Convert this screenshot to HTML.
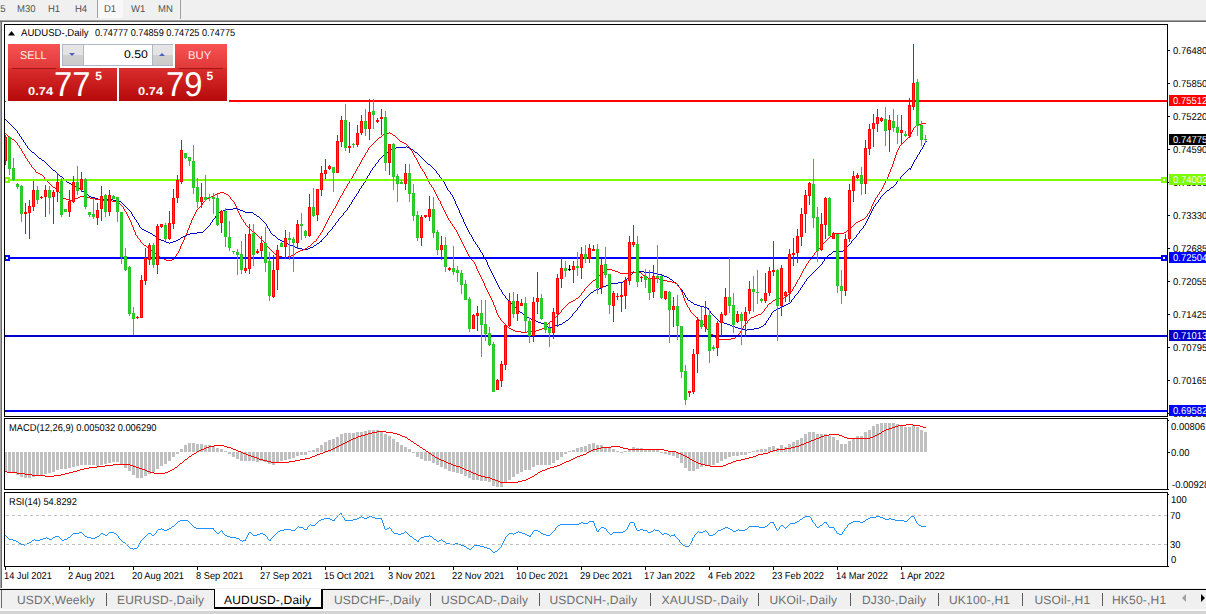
<!DOCTYPE html><html><head><meta charset="utf-8"><title>AUDUSD Daily</title><style>
html,body{margin:0;padding:0}
body{width:1206px;height:614px;overflow:hidden;background:#fff;position:relative;font-family:"Liberation Sans",sans-serif;text-rendering:geometricPrecision}
.abs{position:absolute;white-space:nowrap}
.t{position:absolute;white-space:nowrap;font-size:10px;line-height:11px;color:#000;transform:scaleX(0.926);transform-origin:0 0}
.tb{position:absolute;white-space:nowrap;font-size:10px;line-height:12px;color:#505050;top:4px;transform:scaleX(.95);transform-origin:0 0}
.ax{position:absolute;left:1173px;white-space:nowrap;font-size:10px;line-height:11px;color:#000;height:11px;transform:scaleX(0.945);transform-origin:0 0}
.lb{position:absolute;left:1169px;width:37px;height:11px;color:#fff;overflow:hidden}
.lb span{position:absolute;left:4px;top:1px;white-space:nowrap;font-size:10px;line-height:11px;transform:scaleX(0.945);transform-origin:0 0}
.tab{position:absolute;top:593px;font-size:12px;line-height:14px;color:#6e6e6e;white-space:nowrap;letter-spacing:0.2px}
.sep{position:absolute;top:593px;width:1px;height:13px;background:#5a5a5a}
</style></head><body>
<div class="abs" style="left:0;top:0;width:1206px;height:20px;background:#f0f0f0"></div>
<div class="abs" style="left:0;top:20px;width:1206px;height:1px;background:#a0a0a0"></div>
<div class="abs" style="left:0;top:21px;width:1206px;height:1px;background:#696969"></div>
<div class="abs" style="left:98px;top:0;width:25px;height:18px;background:#f8f8f8"></div>
<div class="abs" style="left:97px;top:0;width:1px;height:18px;background:#a0a0a0"></div>
<div class="abs" style="left:180px;top:0;width:1px;height:19px;background:#a0a0a0"></div>
<div class="tb" style="left:-5px">15</div>
<div class="tb" style="left:16.5px">M30</div>
<div class="tb" style="left:47.5px">H1</div>
<div class="tb" style="left:74.5px">H4</div>
<div class="tb" style="left:103.5px">D1</div>
<div class="tb" style="left:131px">W1</div>
<div class="tb" style="left:158px">MN</div>
<div class="abs" style="left:0;top:22px;width:1px;height:566px;background:#a4a4a4"></div>
<div class="abs" style="left:1px;top:22px;width:1px;height:566px;background:#696969"></div>
<svg class="abs" style="left:0;top:0" width="1206" height="614" viewBox="0 0 1206 614">
<g shape-rendering="crispEdges">
<rect x="4" y="452" width="3" height="19" fill="#c0c0c0"/>
<rect x="8" y="452" width="3" height="20" fill="#c0c0c0"/>
<rect x="12" y="452" width="3" height="21" fill="#c0c0c0"/>
<rect x="16" y="452" width="3" height="23" fill="#c0c0c0"/>
<rect x="20" y="452" width="3" height="25" fill="#c0c0c0"/>
<rect x="24" y="452" width="3" height="26" fill="#c0c0c0"/>
<rect x="28" y="452" width="3" height="26" fill="#c0c0c0"/>
<rect x="32" y="452" width="3" height="25" fill="#c0c0c0"/>
<rect x="36" y="452" width="3" height="24" fill="#c0c0c0"/>
<rect x="40" y="452" width="3" height="23" fill="#c0c0c0"/>
<rect x="44" y="452" width="3" height="22" fill="#c0c0c0"/>
<rect x="48" y="452" width="3" height="21" fill="#c0c0c0"/>
<rect x="52" y="452" width="3" height="20" fill="#c0c0c0"/>
<rect x="56" y="452" width="3" height="18" fill="#c0c0c0"/>
<rect x="60" y="452" width="3" height="17" fill="#c0c0c0"/>
<rect x="64" y="452" width="3" height="17" fill="#c0c0c0"/>
<rect x="68" y="452" width="3" height="16" fill="#c0c0c0"/>
<rect x="72" y="452" width="3" height="15" fill="#c0c0c0"/>
<rect x="76" y="452" width="3" height="14" fill="#c0c0c0"/>
<rect x="80" y="452" width="3" height="13" fill="#c0c0c0"/>
<rect x="84" y="452" width="3" height="13" fill="#c0c0c0"/>
<rect x="88" y="452" width="3" height="13" fill="#c0c0c0"/>
<rect x="92" y="452" width="3" height="13" fill="#c0c0c0"/>
<rect x="96" y="452" width="3" height="14" fill="#c0c0c0"/>
<rect x="100" y="452" width="3" height="13" fill="#c0c0c0"/>
<rect x="104" y="452" width="3" height="12" fill="#c0c0c0"/>
<rect x="108" y="452" width="3" height="11" fill="#c0c0c0"/>
<rect x="112" y="452" width="3" height="10" fill="#c0c0c0"/>
<rect x="116" y="452" width="3" height="10" fill="#c0c0c0"/>
<rect x="120" y="452" width="3" height="13" fill="#c0c0c0"/>
<rect x="124" y="452" width="3" height="16" fill="#c0c0c0"/>
<rect x="128" y="452" width="3" height="19" fill="#c0c0c0"/>
<rect x="132" y="452" width="3" height="23" fill="#c0c0c0"/>
<rect x="136" y="452" width="3" height="26" fill="#c0c0c0"/>
<rect x="140" y="452" width="3" height="26" fill="#c0c0c0"/>
<rect x="144" y="452" width="3" height="24" fill="#c0c0c0"/>
<rect x="148" y="452" width="3" height="22" fill="#c0c0c0"/>
<rect x="152" y="452" width="3" height="20" fill="#c0c0c0"/>
<rect x="156" y="452" width="3" height="17" fill="#c0c0c0"/>
<rect x="160" y="452" width="3" height="14" fill="#c0c0c0"/>
<rect x="164" y="452" width="3" height="12" fill="#c0c0c0"/>
<rect x="168" y="452" width="3" height="9" fill="#c0c0c0"/>
<rect x="172" y="452" width="3" height="5" fill="#c0c0c0"/>
<rect x="176" y="452" width="3" height="2" fill="#c0c0c0"/>
<rect x="180" y="449" width="3" height="3" fill="#c0c0c0"/>
<rect x="184" y="445" width="3" height="7" fill="#c0c0c0"/>
<rect x="188" y="443" width="3" height="9" fill="#c0c0c0"/>
<rect x="192" y="443" width="3" height="9" fill="#c0c0c0"/>
<rect x="196" y="444" width="3" height="8" fill="#c0c0c0"/>
<rect x="200" y="444" width="3" height="8" fill="#c0c0c0"/>
<rect x="204" y="445" width="3" height="7" fill="#c0c0c0"/>
<rect x="208" y="445" width="3" height="7" fill="#c0c0c0"/>
<rect x="212" y="446" width="3" height="6" fill="#c0c0c0"/>
<rect x="216" y="448" width="3" height="4" fill="#c0c0c0"/>
<rect x="220" y="449" width="3" height="3" fill="#c0c0c0"/>
<rect x="224" y="451" width="3" height="1" fill="#c0c0c0"/>
<rect x="228" y="452" width="3" height="2" fill="#c0c0c0"/>
<rect x="232" y="452" width="3" height="5" fill="#c0c0c0"/>
<rect x="236" y="452" width="3" height="7" fill="#c0c0c0"/>
<rect x="240" y="452" width="3" height="9" fill="#c0c0c0"/>
<rect x="244" y="452" width="3" height="9" fill="#c0c0c0"/>
<rect x="248" y="452" width="3" height="9" fill="#c0c0c0"/>
<rect x="252" y="452" width="3" height="9" fill="#c0c0c0"/>
<rect x="256" y="452" width="3" height="10" fill="#c0c0c0"/>
<rect x="260" y="452" width="3" height="9" fill="#c0c0c0"/>
<rect x="264" y="452" width="3" height="10" fill="#c0c0c0"/>
<rect x="268" y="452" width="3" height="12" fill="#c0c0c0"/>
<rect x="272" y="452" width="3" height="13" fill="#c0c0c0"/>
<rect x="276" y="452" width="3" height="11" fill="#c0c0c0"/>
<rect x="280" y="452" width="3" height="9" fill="#c0c0c0"/>
<rect x="284" y="452" width="3" height="8" fill="#c0c0c0"/>
<rect x="288" y="452" width="3" height="7" fill="#c0c0c0"/>
<rect x="292" y="452" width="3" height="6" fill="#c0c0c0"/>
<rect x="296" y="452" width="3" height="4" fill="#c0c0c0"/>
<rect x="300" y="452" width="3" height="3" fill="#c0c0c0"/>
<rect x="304" y="452" width="3" height="3" fill="#c0c0c0"/>
<rect x="308" y="451" width="3" height="1" fill="#c0c0c0"/>
<rect x="312" y="450" width="3" height="2" fill="#c0c0c0"/>
<rect x="316" y="448" width="3" height="4" fill="#c0c0c0"/>
<rect x="320" y="445" width="3" height="7" fill="#c0c0c0"/>
<rect x="324" y="442" width="3" height="10" fill="#c0c0c0"/>
<rect x="328" y="440" width="3" height="12" fill="#c0c0c0"/>
<rect x="332" y="439" width="3" height="13" fill="#c0c0c0"/>
<rect x="336" y="437" width="3" height="15" fill="#c0c0c0"/>
<rect x="340" y="434" width="3" height="18" fill="#c0c0c0"/>
<rect x="344" y="433" width="3" height="19" fill="#c0c0c0"/>
<rect x="348" y="433" width="3" height="19" fill="#c0c0c0"/>
<rect x="352" y="433" width="3" height="19" fill="#c0c0c0"/>
<rect x="356" y="432" width="3" height="20" fill="#c0c0c0"/>
<rect x="360" y="432" width="3" height="20" fill="#c0c0c0"/>
<rect x="364" y="431" width="3" height="21" fill="#c0c0c0"/>
<rect x="368" y="430" width="3" height="22" fill="#c0c0c0"/>
<rect x="372" y="430" width="3" height="22" fill="#c0c0c0"/>
<rect x="376" y="430" width="3" height="22" fill="#c0c0c0"/>
<rect x="380" y="431" width="3" height="21" fill="#c0c0c0"/>
<rect x="384" y="434" width="3" height="18" fill="#c0c0c0"/>
<rect x="388" y="436" width="3" height="16" fill="#c0c0c0"/>
<rect x="392" y="439" width="3" height="13" fill="#c0c0c0"/>
<rect x="396" y="442" width="3" height="10" fill="#c0c0c0"/>
<rect x="400" y="445" width="3" height="7" fill="#c0c0c0"/>
<rect x="404" y="447" width="3" height="5" fill="#c0c0c0"/>
<rect x="408" y="449" width="3" height="3" fill="#c0c0c0"/>
<rect x="412" y="452" width="3" height="1" fill="#c0c0c0"/>
<rect x="416" y="452" width="3" height="5" fill="#c0c0c0"/>
<rect x="420" y="452" width="3" height="7" fill="#c0c0c0"/>
<rect x="424" y="452" width="3" height="9" fill="#c0c0c0"/>
<rect x="428" y="452" width="3" height="9" fill="#c0c0c0"/>
<rect x="432" y="452" width="3" height="11" fill="#c0c0c0"/>
<rect x="436" y="452" width="3" height="13" fill="#c0c0c0"/>
<rect x="440" y="452" width="3" height="15" fill="#c0c0c0"/>
<rect x="444" y="452" width="3" height="17" fill="#c0c0c0"/>
<rect x="448" y="452" width="3" height="19" fill="#c0c0c0"/>
<rect x="452" y="452" width="3" height="20" fill="#c0c0c0"/>
<rect x="456" y="452" width="3" height="21" fill="#c0c0c0"/>
<rect x="460" y="452" width="3" height="22" fill="#c0c0c0"/>
<rect x="464" y="452" width="3" height="24" fill="#c0c0c0"/>
<rect x="468" y="452" width="3" height="26" fill="#c0c0c0"/>
<rect x="472" y="452" width="3" height="28" fill="#c0c0c0"/>
<rect x="476" y="452" width="3" height="28" fill="#c0c0c0"/>
<rect x="480" y="452" width="3" height="29" fill="#c0c0c0"/>
<rect x="484" y="452" width="3" height="29" fill="#c0c0c0"/>
<rect x="488" y="452" width="3" height="30" fill="#c0c0c0"/>
<rect x="492" y="452" width="3" height="34" fill="#c0c0c0"/>
<rect x="496" y="452" width="3" height="35" fill="#c0c0c0"/>
<rect x="500" y="452" width="3" height="35" fill="#c0c0c0"/>
<rect x="504" y="452" width="3" height="31" fill="#c0c0c0"/>
<rect x="508" y="452" width="3" height="28" fill="#c0c0c0"/>
<rect x="512" y="452" width="3" height="25" fill="#c0c0c0"/>
<rect x="516" y="452" width="3" height="22" fill="#c0c0c0"/>
<rect x="520" y="452" width="3" height="20" fill="#c0c0c0"/>
<rect x="524" y="452" width="3" height="18" fill="#c0c0c0"/>
<rect x="528" y="452" width="3" height="18" fill="#c0c0c0"/>
<rect x="532" y="452" width="3" height="15" fill="#c0c0c0"/>
<rect x="536" y="452" width="3" height="13" fill="#c0c0c0"/>
<rect x="540" y="452" width="3" height="13" fill="#c0c0c0"/>
<rect x="544" y="452" width="3" height="13" fill="#c0c0c0"/>
<rect x="548" y="452" width="3" height="13" fill="#c0c0c0"/>
<rect x="552" y="452" width="3" height="11" fill="#c0c0c0"/>
<rect x="556" y="452" width="3" height="8" fill="#c0c0c0"/>
<rect x="560" y="452" width="3" height="5" fill="#c0c0c0"/>
<rect x="564" y="452" width="3" height="2" fill="#c0c0c0"/>
<rect x="568" y="451" width="3" height="1" fill="#c0c0c0"/>
<rect x="572" y="450" width="3" height="2" fill="#c0c0c0"/>
<rect x="576" y="448" width="3" height="4" fill="#c0c0c0"/>
<rect x="580" y="447" width="3" height="5" fill="#c0c0c0"/>
<rect x="584" y="446" width="3" height="6" fill="#c0c0c0"/>
<rect x="588" y="444" width="3" height="8" fill="#c0c0c0"/>
<rect x="592" y="443" width="3" height="9" fill="#c0c0c0"/>
<rect x="596" y="445" width="3" height="7" fill="#c0c0c0"/>
<rect x="600" y="445" width="3" height="7" fill="#c0c0c0"/>
<rect x="604" y="447" width="3" height="5" fill="#c0c0c0"/>
<rect x="608" y="448" width="3" height="4" fill="#c0c0c0"/>
<rect x="612" y="449" width="3" height="3" fill="#c0c0c0"/>
<rect x="616" y="451" width="3" height="1" fill="#c0c0c0"/>
<rect x="620" y="452" width="3" height="1" fill="#c0c0c0"/>
<rect x="624" y="451" width="3" height="1" fill="#c0c0c0"/>
<rect x="628" y="449" width="3" height="3" fill="#c0c0c0"/>
<rect x="632" y="447" width="3" height="5" fill="#c0c0c0"/>
<rect x="636" y="448" width="3" height="4" fill="#c0c0c0"/>
<rect x="640" y="448" width="3" height="4" fill="#c0c0c0"/>
<rect x="644" y="449" width="3" height="3" fill="#c0c0c0"/>
<rect x="648" y="450" width="3" height="2" fill="#c0c0c0"/>
<rect x="652" y="450" width="3" height="2" fill="#c0c0c0"/>
<rect x="656" y="450" width="3" height="2" fill="#c0c0c0"/>
<rect x="660" y="452" width="3" height="1" fill="#c0c0c0"/>
<rect x="664" y="452" width="3" height="2" fill="#c0c0c0"/>
<rect x="668" y="452" width="3" height="3" fill="#c0c0c0"/>
<rect x="672" y="452" width="3" height="4" fill="#c0c0c0"/>
<rect x="676" y="452" width="3" height="6" fill="#c0c0c0"/>
<rect x="680" y="452" width="3" height="11" fill="#c0c0c0"/>
<rect x="684" y="452" width="3" height="16" fill="#c0c0c0"/>
<rect x="688" y="452" width="3" height="19" fill="#c0c0c0"/>
<rect x="692" y="452" width="3" height="19" fill="#c0c0c0"/>
<rect x="696" y="452" width="3" height="17" fill="#c0c0c0"/>
<rect x="700" y="452" width="3" height="15" fill="#c0c0c0"/>
<rect x="704" y="452" width="3" height="13" fill="#c0c0c0"/>
<rect x="708" y="452" width="3" height="14" fill="#c0c0c0"/>
<rect x="712" y="452" width="3" height="13" fill="#c0c0c0"/>
<rect x="716" y="452" width="3" height="11" fill="#c0c0c0"/>
<rect x="720" y="452" width="3" height="9" fill="#c0c0c0"/>
<rect x="724" y="452" width="3" height="7" fill="#c0c0c0"/>
<rect x="728" y="452" width="3" height="5" fill="#c0c0c0"/>
<rect x="732" y="452" width="3" height="4" fill="#c0c0c0"/>
<rect x="736" y="452" width="3" height="4" fill="#c0c0c0"/>
<rect x="740" y="452" width="3" height="3" fill="#c0c0c0"/>
<rect x="744" y="452" width="3" height="3" fill="#c0c0c0"/>
<rect x="748" y="452" width="3" height="1" fill="#c0c0c0"/>
<rect x="752" y="451" width="3" height="1" fill="#c0c0c0"/>
<rect x="756" y="450" width="3" height="2" fill="#c0c0c0"/>
<rect x="760" y="449" width="3" height="3" fill="#c0c0c0"/>
<rect x="764" y="449" width="3" height="3" fill="#c0c0c0"/>
<rect x="768" y="447" width="3" height="5" fill="#c0c0c0"/>
<rect x="772" y="446" width="3" height="6" fill="#c0c0c0"/>
<rect x="776" y="448" width="3" height="4" fill="#c0c0c0"/>
<rect x="780" y="445" width="3" height="7" fill="#c0c0c0"/>
<rect x="784" y="447" width="3" height="5" fill="#c0c0c0"/>
<rect x="788" y="444" width="3" height="8" fill="#c0c0c0"/>
<rect x="792" y="442" width="3" height="10" fill="#c0c0c0"/>
<rect x="796" y="440" width="3" height="12" fill="#c0c0c0"/>
<rect x="800" y="438" width="3" height="14" fill="#c0c0c0"/>
<rect x="804" y="434" width="3" height="18" fill="#c0c0c0"/>
<rect x="808" y="432" width="3" height="20" fill="#c0c0c0"/>
<rect x="812" y="432" width="3" height="20" fill="#c0c0c0"/>
<rect x="816" y="434" width="3" height="18" fill="#c0c0c0"/>
<rect x="820" y="434" width="3" height="18" fill="#c0c0c0"/>
<rect x="824" y="434" width="3" height="18" fill="#c0c0c0"/>
<rect x="828" y="436" width="3" height="16" fill="#c0c0c0"/>
<rect x="832" y="437" width="3" height="15" fill="#c0c0c0"/>
<rect x="836" y="440" width="3" height="12" fill="#c0c0c0"/>
<rect x="840" y="444" width="3" height="8" fill="#c0c0c0"/>
<rect x="844" y="444" width="3" height="8" fill="#c0c0c0"/>
<rect x="848" y="441" width="3" height="11" fill="#c0c0c0"/>
<rect x="852" y="439" width="3" height="13" fill="#c0c0c0"/>
<rect x="856" y="436" width="3" height="16" fill="#c0c0c0"/>
<rect x="860" y="436" width="3" height="16" fill="#c0c0c0"/>
<rect x="864" y="432" width="3" height="20" fill="#c0c0c0"/>
<rect x="868" y="430" width="3" height="22" fill="#c0c0c0"/>
<rect x="872" y="426" width="3" height="26" fill="#c0c0c0"/>
<rect x="876" y="424" width="3" height="28" fill="#c0c0c0"/>
<rect x="880" y="423" width="3" height="29" fill="#c0c0c0"/>
<rect x="884" y="423" width="3" height="29" fill="#c0c0c0"/>
<rect x="888" y="423" width="3" height="29" fill="#c0c0c0"/>
<rect x="892" y="423" width="3" height="29" fill="#c0c0c0"/>
<rect x="896" y="424" width="3" height="28" fill="#c0c0c0"/>
<rect x="900" y="426" width="3" height="26" fill="#c0c0c0"/>
<rect x="904" y="427" width="3" height="25" fill="#c0c0c0"/>
<rect x="908" y="427" width="3" height="25" fill="#c0c0c0"/>
<rect x="912" y="425" width="3" height="27" fill="#c0c0c0"/>
<rect x="916" y="427" width="3" height="25" fill="#c0c0c0"/>
<rect x="920" y="430" width="3" height="22" fill="#c0c0c0"/>
<rect x="924" y="432" width="3" height="20" fill="#c0c0c0"/>
</g>
<path shape-rendering="crispEdges" fill="#0000c8" d="M5,119h1v1h-1zM6,120h1v1h-1zM7,121h1v1h-1zM8,122h1v1h-1zM9,123h1v1h-1zM10,124h1v1h-1zM11,125h1v1h-1zM12,126h1v1h-1zM13,127h1v1h-1zM14,128h1v1h-1zM15,129h1v1h-1zM16,130h1v1h-1zM17,131h1v2h-1zM18,133h1v1h-1zM19,134h1v2h-1zM20,136h1v1h-1zM21,137h1v2h-1zM22,139h1v1h-1zM23,140h1v2h-1zM24,142h1v1h-1zM25,143h1v2h-1zM26,145h1v1h-1zM27,146h1v2h-1zM28,148h1v1h-1zM29,149h1v1h-1zM30,150h1v1h-1zM31,151h1v1h-1zM32,152h1v1h-1zM33,152h1v1h-1zM34,153h1v1h-1zM35,154h1v1h-1zM36,155h1v1h-1zM37,156h1v1h-1zM38,157h1v1h-1zM39,158h1v1h-1zM40,158h1v1h-1zM41,159h1v1h-1zM42,160h1v1h-1zM43,160h1v1h-1zM44,161h1v1h-1zM45,162h1v1h-1zM46,163h1v1h-1zM47,164h1v1h-1zM48,165h1v1h-1zM49,166h1v1h-1zM50,167h1v1h-1zM51,168h1v1h-1zM52,169h1v1h-1zM53,170h1v1h-1zM54,170h1v1h-1zM55,171h1v1h-1zM56,172h1v1h-1zM57,173h1v1h-1zM58,174h1v1h-1zM59,175h1v1h-1zM60,176h1v1h-1zM61,176h1v1h-1zM62,177h1v1h-1zM63,178h1v1h-1zM64,179h1v1h-1zM65,180h1v1h-1zM66,181h1v1h-1zM67,182h1v1h-1zM68,182h1v1h-1zM69,183h1v1h-1zM70,183h1v1h-1zM71,184h1v1h-1zM72,184h1v1h-1zM73,185h1v1h-1zM74,186h1v1h-1zM75,186h1v1h-1zM76,187h1v1h-1zM77,187h1v1h-1zM78,188h1v1h-1zM79,188h1v1h-1zM80,189h1v1h-1zM81,190h1v1h-1zM82,191h1v1h-1zM83,191h1v1h-1zM84,192h1v1h-1zM85,193h1v1h-1zM86,194h1v1h-1zM87,194h1v1h-1zM88,195h1v1h-1zM89,196h1v1h-1zM90,196h1v1h-1zM91,197h1v1h-1zM92,197h1v1h-1zM93,197h1v1h-1zM94,197h1v1h-1zM95,198h1v1h-1zM96,198h1v1h-1zM97,198h1v1h-1zM98,199h1v1h-1zM99,199h1v1h-1zM100,199h1v1h-1zM101,199h1v1h-1zM102,199h1v1h-1zM103,199h1v1h-1zM104,199h1v1h-1zM105,199h1v1h-1zM106,199h1v1h-1zM107,199h1v1h-1zM108,199h1v1h-1zM109,199h1v1h-1zM110,199h1v1h-1zM111,199h1v1h-1zM112,199h1v1h-1zM113,200h1v1h-1zM114,200h1v1h-1zM115,200h1v1h-1zM116,200h1v1h-1zM117,200h1v1h-1zM118,200h1v1h-1zM119,201h1v1h-1zM120,201h1v1h-1zM121,202h1v1h-1zM122,203h1v1h-1zM123,204h1v1h-1zM124,205h1v1h-1zM125,206h1v1h-1zM126,207h1v1h-1zM127,208h1v1h-1zM128,209h1v1h-1zM129,210h1v1h-1zM130,211h1v1h-1zM131,212h1v2h-1zM132,214h1v2h-1zM133,216h1v1h-1zM134,217h1v2h-1zM135,219h1v1h-1zM136,220h1v2h-1zM137,222h1v1h-1zM138,223h1v2h-1zM139,225h1v2h-1zM140,227h1v1h-1zM141,228h1v1h-1zM142,229h1v1h-1zM143,229h1v1h-1zM144,230h1v1h-1zM145,230h1v1h-1zM146,231h1v1h-1zM147,231h1v1h-1zM148,232h1v1h-1zM149,232h1v1h-1zM150,233h1v1h-1zM151,233h1v1h-1zM152,234h1v1h-1zM153,235h1v1h-1zM154,235h1v1h-1zM155,236h1v1h-1zM156,237h1v1h-1zM157,237h1v1h-1zM158,238h1v1h-1zM159,239h1v1h-1zM160,239h1v1h-1zM161,240h1v1h-1zM162,240h1v1h-1zM163,240h1v1h-1zM164,241h1v1h-1zM165,241h1v1h-1zM166,242h1v1h-1zM167,242h1v1h-1zM168,242h1v1h-1zM169,243h1v1h-1zM170,242h1v1h-1zM171,242h1v1h-1zM172,242h1v1h-1zM173,241h1v1h-1zM174,241h1v1h-1zM175,241h1v1h-1zM176,240h1v1h-1zM177,240h1v1h-1zM178,239h1v1h-1zM179,239h1v1h-1zM180,238h1v1h-1zM181,237h1v1h-1zM182,237h1v1h-1zM183,236h1v1h-1zM184,236h1v1h-1zM185,235h1v1h-1zM186,235h1v1h-1zM187,234h1v1h-1zM188,234h1v1h-1zM189,234h1v1h-1zM190,233h1v1h-1zM191,233h1v1h-1zM192,233h1v1h-1zM193,233h1v1h-1zM194,233h1v1h-1zM195,233h1v1h-1zM196,233h1v1h-1zM197,232h1v1h-1zM198,232h1v1h-1zM199,232h1v1h-1zM200,232h1v1h-1zM201,232h1v1h-1zM202,232h1v1h-1zM203,231h1v1h-1zM204,230h1v1h-1zM205,229h1v1h-1zM206,228h1v1h-1zM207,227h1v1h-1zM208,226h1v1h-1zM209,225h1v1h-1zM210,223h1v2h-1zM211,222h1v1h-1zM212,220h1v2h-1zM213,219h1v1h-1zM214,218h1v1h-1zM215,216h1v2h-1zM216,215h1v1h-1zM217,214h1v1h-1zM218,213h1v1h-1zM219,212h1v1h-1zM220,212h1v1h-1zM221,211h1v1h-1zM222,211h1v1h-1zM223,210h1v1h-1zM224,210h1v1h-1zM225,209h1v1h-1zM226,209h1v1h-1zM227,209h1v1h-1zM228,209h1v1h-1zM229,209h1v1h-1zM230,209h1v1h-1zM231,209h1v1h-1zM232,209h1v1h-1zM233,208h1v1h-1zM234,208h1v1h-1zM235,208h1v1h-1zM236,208h1v1h-1zM237,208h1v1h-1zM238,209h1v1h-1zM239,209h1v1h-1zM240,210h1v1h-1zM241,210h1v1h-1zM242,210h1v1h-1zM243,211h1v1h-1zM244,211h1v1h-1zM245,212h1v1h-1zM246,212h1v1h-1zM247,212h1v1h-1zM248,212h1v1h-1zM249,212h1v1h-1zM250,212h1v1h-1zM251,212h1v1h-1zM252,212h1v1h-1zM253,213h1v1h-1zM254,214h1v1h-1zM255,214h1v1h-1zM256,215h1v1h-1zM257,216h1v1h-1zM258,216h1v1h-1zM259,217h1v1h-1zM260,218h1v1h-1zM261,219h1v1h-1zM262,220h1v1h-1zM263,221h1v1h-1zM264,222h1v1h-1zM265,223h1v1h-1zM266,224h1v2h-1zM267,226h1v2h-1zM268,228h1v1h-1zM269,229h1v2h-1zM270,231h1v2h-1zM271,233h1v1h-1zM272,234h1v1h-1zM273,235h1v1h-1zM274,235h1v1h-1zM275,236h1v1h-1zM276,237h1v1h-1zM277,238h1v1h-1zM278,239h1v1h-1zM279,239h1v1h-1zM280,240h1v1h-1zM281,240h1v1h-1zM282,241h1v1h-1zM283,241h1v1h-1zM284,242h1v1h-1zM285,242h1v1h-1zM286,243h1v1h-1zM287,243h1v1h-1zM288,244h1v1h-1zM289,244h1v1h-1zM290,245h1v1h-1zM291,245h1v1h-1zM292,245h1v1h-1zM293,246h1v1h-1zM294,246h1v1h-1zM295,247h1v1h-1zM296,247h1v1h-1zM297,247h1v1h-1zM298,248h1v1h-1zM299,248h1v1h-1zM300,248h1v1h-1zM301,248h1v1h-1zM302,249h1v1h-1zM303,249h1v1h-1zM304,249h1v1h-1zM305,249h1v1h-1zM306,249h1v1h-1zM307,249h1v1h-1zM308,248h1v1h-1zM309,248h1v1h-1zM310,247h1v1h-1zM311,247h1v1h-1zM312,247h1v1h-1zM313,246h1v1h-1zM314,245h1v1h-1zM315,245h1v1h-1zM316,244h1v1h-1zM317,243h1v1h-1zM318,243h1v1h-1zM319,242h1v1h-1zM320,241h1v1h-1zM321,240h1v2h-1zM322,239h1v1h-1zM323,238h1v1h-1zM324,237h1v1h-1zM325,236h1v1h-1zM326,235h1v1h-1zM327,233h1v2h-1zM328,232h1v1h-1zM329,231h1v1h-1zM330,230h1v1h-1zM331,229h1v1h-1zM332,227h1v2h-1zM333,226h1v1h-1zM334,225h1v1h-1zM335,223h1v2h-1zM336,222h1v1h-1zM337,221h1v1h-1zM338,219h1v2h-1zM339,218h1v1h-1zM340,217h1v1h-1zM341,216h1v1h-1zM342,215h1v1h-1zM343,213h1v2h-1zM344,212h1v1h-1zM345,211h1v1h-1zM346,210h1v1h-1zM347,208h1v2h-1zM348,207h1v1h-1zM349,205h1v2h-1zM350,204h1v1h-1zM351,202h1v2h-1zM352,200h1v2h-1zM353,199h1v1h-1zM354,197h1v2h-1zM355,196h1v1h-1zM356,194h1v2h-1zM357,193h1v1h-1zM358,191h1v2h-1zM359,189h1v2h-1zM360,188h1v1h-1zM361,186h1v2h-1zM362,185h1v1h-1zM363,183h1v2h-1zM364,182h1v1h-1zM365,180h1v2h-1zM366,178h1v2h-1zM367,176h1v2h-1zM368,175h1v1h-1zM369,173h1v2h-1zM370,171h1v2h-1zM371,170h1v1h-1zM372,168h1v2h-1zM373,167h1v1h-1zM374,166h1v1h-1zM375,164h1v2h-1zM376,163h1v1h-1zM377,162h1v1h-1zM378,160h1v2h-1zM379,159h1v1h-1zM380,158h1v1h-1zM381,157h1v1h-1zM382,156h1v1h-1zM383,155h1v1h-1zM384,154h1v1h-1zM385,153h1v1h-1zM386,153h1v1h-1zM387,152h1v1h-1zM388,151h1v1h-1zM389,150h1v1h-1zM390,150h1v1h-1zM391,149h1v1h-1zM392,149h1v1h-1zM393,149h1v1h-1zM394,148h1v1h-1zM395,148h1v1h-1zM396,147h1v1h-1zM397,147h1v1h-1zM398,147h1v1h-1zM399,147h1v1h-1zM400,147h1v1h-1zM401,147h1v1h-1zM402,147h1v1h-1zM403,147h1v1h-1zM404,147h1v1h-1zM405,147h1v1h-1zM406,146h1v1h-1zM407,147h1v1h-1zM408,147h1v1h-1zM409,148h1v1h-1zM410,148h1v1h-1zM411,149h1v1h-1zM412,149h1v1h-1zM413,150h1v1h-1zM414,151h1v1h-1zM415,152h1v1h-1zM416,152h1v1h-1zM417,153h1v1h-1zM418,154h1v1h-1zM419,155h1v1h-1zM420,156h1v1h-1zM421,157h1v1h-1zM422,158h1v1h-1zM423,159h1v1h-1zM424,160h1v1h-1zM425,161h1v1h-1zM426,162h1v1h-1zM427,163h1v1h-1zM428,164h1v1h-1zM429,164h1v1h-1zM430,165h1v1h-1zM431,166h1v1h-1zM432,167h1v1h-1zM433,168h1v1h-1zM434,169h1v1h-1zM435,170h1v1h-1zM436,171h1v2h-1zM437,173h1v1h-1zM438,174h1v1h-1zM439,175h1v2h-1zM440,177h1v1h-1zM441,178h1v1h-1zM442,179h1v1h-1zM443,180h1v2h-1zM444,182h1v2h-1zM445,184h1v2h-1zM446,186h1v2h-1zM447,188h1v2h-1zM448,190h1v1h-1zM449,191h1v1h-1zM450,192h1v2h-1zM451,194h1v1h-1zM452,195h1v2h-1zM453,197h1v2h-1zM454,199h1v2h-1zM455,201h1v3h-1zM456,204h1v2h-1zM457,206h1v2h-1zM458,208h1v2h-1zM459,210h1v3h-1zM460,213h1v2h-1zM461,215h1v2h-1zM462,217h1v2h-1zM463,219h1v3h-1zM464,222h1v2h-1zM465,224h1v2h-1zM466,226h1v2h-1zM467,228h1v2h-1zM468,230h1v2h-1zM469,232h1v2h-1zM470,234h1v1h-1zM471,235h1v2h-1zM472,237h1v2h-1zM473,239h1v2h-1zM474,241h1v1h-1zM475,242h1v2h-1zM476,244h1v1h-1zM477,245h1v2h-1zM478,247h1v1h-1zM479,248h1v2h-1zM480,250h1v2h-1zM481,252h1v1h-1zM482,253h1v2h-1zM483,255h1v2h-1zM484,257h1v2h-1zM485,259h1v1h-1zM486,260h1v2h-1zM487,262h1v3h-1zM488,265h1v2h-1zM489,267h1v2h-1zM490,269h1v2h-1zM491,271h1v2h-1zM492,273h1v2h-1zM493,275h1v2h-1zM494,277h1v2h-1zM495,279h1v2h-1zM496,281h1v2h-1zM497,283h1v2h-1zM498,285h1v2h-1zM499,287h1v2h-1zM500,289h1v1h-1zM501,290h1v2h-1zM502,292h1v2h-1zM503,294h1v1h-1zM504,295h1v1h-1zM505,296h1v2h-1zM506,298h1v1h-1zM507,299h1v1h-1zM508,300h1v1h-1zM509,301h1v1h-1zM510,302h1v1h-1zM511,303h1v1h-1zM512,304h1v1h-1zM513,305h1v1h-1zM514,306h1v1h-1zM515,307h1v1h-1zM516,308h1v1h-1zM517,309h1v1h-1zM518,310h1v1h-1zM519,311h1v1h-1zM520,312h1v1h-1zM521,312h1v1h-1zM522,313h1v1h-1zM523,314h1v1h-1zM524,315h1v1h-1zM525,315h1v1h-1zM526,316h1v1h-1zM527,317h1v1h-1zM528,317h1v1h-1zM529,318h1v1h-1zM530,318h1v1h-1zM531,319h1v1h-1zM532,319h1v1h-1zM533,320h1v1h-1zM534,320h1v1h-1zM535,320h1v1h-1zM536,321h1v1h-1zM537,321h1v1h-1zM538,322h1v1h-1zM539,322h1v1h-1zM540,322h1v1h-1zM541,323h1v1h-1zM542,323h1v1h-1zM543,323h1v1h-1zM544,324h1v1h-1zM545,325h1v1h-1zM546,325h1v1h-1zM547,326h1v1h-1zM548,327h1v1h-1zM549,328h1v1h-1zM550,327h1v1h-1zM551,327h1v1h-1zM552,326h1v1h-1zM553,326h1v1h-1zM554,326h1v1h-1zM555,325h1v1h-1zM556,325h1v1h-1zM557,325h1v1h-1zM558,325h1v1h-1zM559,324h1v1h-1zM560,324h1v1h-1zM561,324h1v1h-1zM562,323h1v1h-1zM563,322h1v1h-1zM564,322h1v1h-1zM565,321h1v1h-1zM566,320h1v1h-1zM567,320h1v1h-1zM568,319h1v1h-1zM569,318h1v1h-1zM570,317h1v1h-1zM571,316h1v1h-1zM572,314h1v2h-1zM573,313h1v1h-1zM574,312h1v1h-1zM575,311h1v1h-1zM576,310h1v1h-1zM577,308h1v2h-1zM578,307h1v1h-1zM579,306h1v1h-1zM580,304h1v2h-1zM581,303h1v1h-1zM582,301h1v2h-1zM583,300h1v1h-1zM584,299h1v1h-1zM585,298h1v1h-1zM586,297h1v1h-1zM587,296h1v1h-1zM588,295h1v1h-1zM589,294h1v1h-1zM590,293h1v1h-1zM591,292h1v1h-1zM592,292h1v1h-1zM593,291h1v1h-1zM594,290h1v1h-1zM595,290h1v1h-1zM596,289h1v1h-1zM597,289h1v1h-1zM598,289h1v1h-1zM599,288h1v1h-1zM600,288h1v1h-1zM601,287h1v1h-1zM602,287h1v1h-1zM603,286h1v1h-1zM604,286h1v1h-1zM605,286h1v1h-1zM606,285h1v1h-1zM607,285h1v1h-1zM608,284h1v1h-1zM609,284h1v1h-1zM610,284h1v1h-1zM611,283h1v1h-1zM612,283h1v1h-1zM613,283h1v1h-1zM614,283h1v1h-1zM615,283h1v1h-1zM616,283h1v1h-1zM617,283h1v1h-1zM618,282h1v1h-1zM619,282h1v1h-1zM620,282h1v1h-1zM621,282h1v1h-1zM622,282h1v1h-1zM623,281h1v1h-1zM624,280h1v1h-1zM625,279h1v1h-1zM626,279h1v1h-1zM627,278h1v1h-1zM628,277h1v1h-1zM629,276h1v1h-1zM630,275h1v1h-1zM631,274h1v1h-1zM632,273h1v1h-1zM633,272h1v1h-1zM634,272h1v1h-1zM635,272h1v1h-1zM636,272h1v1h-1zM637,272h1v1h-1zM638,272h1v1h-1zM639,271h1v1h-1zM640,271h1v1h-1zM641,271h1v1h-1zM642,271h1v1h-1zM643,271h1v1h-1zM644,272h1v1h-1zM645,272h1v1h-1zM646,272h1v1h-1zM647,272h1v1h-1zM648,272h1v1h-1zM649,272h1v1h-1zM650,272h1v1h-1zM651,272h1v1h-1zM652,272h1v1h-1zM653,272h1v1h-1zM654,273h1v1h-1zM655,273h1v1h-1zM656,273h1v1h-1zM657,273h1v1h-1zM658,274h1v1h-1zM659,274h1v1h-1zM660,274h1v1h-1zM661,274h1v1h-1zM662,275h1v1h-1zM663,275h1v1h-1zM664,276h1v1h-1zM665,276h1v1h-1zM666,276h1v1h-1zM667,277h1v1h-1zM668,277h1v1h-1zM669,278h1v1h-1zM670,279h1v1h-1zM671,279h1v1h-1zM672,280h1v1h-1zM673,281h1v1h-1zM674,282h1v1h-1zM675,282h1v1h-1zM676,283h1v1h-1zM677,284h1v1h-1zM678,285h1v2h-1zM679,287h1v1h-1zM680,288h1v1h-1zM681,289h1v1h-1zM682,290h1v2h-1zM683,292h1v1h-1zM684,293h1v2h-1zM685,295h1v2h-1zM686,297h1v1h-1zM687,298h1v2h-1zM688,300h1v1h-1zM689,300h1v1h-1zM690,301h1v1h-1zM691,302h1v1h-1zM692,302h1v1h-1zM693,303h1v1h-1zM694,304h1v1h-1zM695,304h1v1h-1zM696,304h1v1h-1zM697,305h1v1h-1zM698,305h1v1h-1zM699,305h1v1h-1zM700,306h1v1h-1zM701,306h1v1h-1zM702,306h1v1h-1zM703,306h1v1h-1zM704,307h1v1h-1zM705,307h1v1h-1zM706,307h1v1h-1zM707,308h1v1h-1zM708,308h1v2h-1zM709,310h1v1h-1zM710,311h1v2h-1zM711,313h1v1h-1zM712,314h1v1h-1zM713,315h1v1h-1zM714,316h1v1h-1zM715,317h1v1h-1zM716,318h1v1h-1zM717,319h1v1h-1zM718,320h1v1h-1zM719,321h1v1h-1zM720,321h1v1h-1zM721,321h1v1h-1zM722,322h1v1h-1zM723,322h1v1h-1zM724,323h1v1h-1zM725,323h1v1h-1zM726,323h1v1h-1zM727,324h1v1h-1zM728,324h1v1h-1zM729,324h1v1h-1zM730,325h1v1h-1zM731,325h1v1h-1zM732,326h1v1h-1zM733,326h1v1h-1zM734,326h1v1h-1zM735,327h1v1h-1zM736,327h1v1h-1zM737,327h1v1h-1zM738,328h1v1h-1zM739,328h1v1h-1zM740,328h1v1h-1zM741,329h1v1h-1zM742,329h1v1h-1zM743,329h1v1h-1zM744,329h1v1h-1zM745,329h1v1h-1zM746,330h1v1h-1zM747,329h1v1h-1zM748,329h1v1h-1zM749,329h1v1h-1zM750,329h1v1h-1zM751,329h1v1h-1zM752,329h1v1h-1zM753,329h1v1h-1zM754,328h1v1h-1zM755,328h1v1h-1zM756,328h1v1h-1zM757,328h1v1h-1zM758,328h1v1h-1zM759,327h1v1h-1zM760,327h1v1h-1zM761,326h1v1h-1zM762,326h1v1h-1zM763,325h1v1h-1zM764,324h1v1h-1zM765,323h1v2h-1zM766,321h1v2h-1zM767,320h1v1h-1zM768,318h1v2h-1zM769,317h1v1h-1zM770,315h1v2h-1zM771,313h1v2h-1zM772,312h1v1h-1zM773,311h1v1h-1zM774,310h1v1h-1zM775,310h1v1h-1zM776,309h1v1h-1zM777,309h1v1h-1zM778,308h1v1h-1zM779,308h1v1h-1zM780,307h1v1h-1zM781,307h1v1h-1zM782,306h1v1h-1zM783,306h1v1h-1zM784,305h1v1h-1zM785,305h1v1h-1zM786,304h1v1h-1zM787,304h1v1h-1zM788,303h1v1h-1zM789,303h1v1h-1zM790,302h1v1h-1zM791,300h1v2h-1zM792,299h1v1h-1zM793,298h1v1h-1zM794,296h1v2h-1zM795,295h1v1h-1zM796,294h1v1h-1zM797,293h1v1h-1zM798,291h1v2h-1zM799,290h1v1h-1zM800,288h1v2h-1zM801,287h1v1h-1zM802,285h1v2h-1zM803,284h1v1h-1zM804,282h1v2h-1zM805,281h1v1h-1zM806,279h1v2h-1zM807,278h1v1h-1zM808,277h1v1h-1zM809,276h1v1h-1zM810,275h1v1h-1zM811,274h1v1h-1zM812,273h1v1h-1zM813,272h1v1h-1zM814,271h1v1h-1zM815,270h1v1h-1zM816,269h1v1h-1zM817,268h1v1h-1zM818,267h1v1h-1zM819,266h1v1h-1zM820,265h1v1h-1zM821,264h1v1h-1zM822,262h1v2h-1zM823,261h1v1h-1zM824,259h1v2h-1zM825,258h1v1h-1zM826,257h1v1h-1zM827,256h1v1h-1zM828,255h1v1h-1zM829,254h1v1h-1zM830,254h1v1h-1zM831,253h1v1h-1zM832,252h1v1h-1zM833,251h1v1h-1zM834,251h1v1h-1zM835,251h1v1h-1zM836,251h1v1h-1zM837,251h1v1h-1zM838,251h1v1h-1zM839,251h1v1h-1zM840,251h1v1h-1zM841,251h1v1h-1zM842,251h1v1h-1zM843,250h1v1h-1zM844,249h1v1h-1zM845,248h1v1h-1zM846,247h1v1h-1zM847,246h1v1h-1zM848,245h1v1h-1zM849,244h1v1h-1zM850,243h1v1h-1zM851,241h1v2h-1zM852,240h1v1h-1zM853,239h1v1h-1zM854,238h1v1h-1zM855,237h1v1h-1zM856,235h1v2h-1zM857,234h1v1h-1zM858,233h1v1h-1zM859,231h1v2h-1zM860,230h1v1h-1zM861,229h1v1h-1zM862,228h1v1h-1zM863,226h1v2h-1zM864,225h1v1h-1zM865,223h1v2h-1zM866,221h1v2h-1zM867,219h1v2h-1zM868,217h1v2h-1zM869,215h1v2h-1zM870,213h1v2h-1zM871,211h1v2h-1zM872,209h1v2h-1zM873,207h1v2h-1zM874,206h1v1h-1zM875,204h1v2h-1zM876,203h1v1h-1zM877,202h1v1h-1zM878,200h1v2h-1zM879,199h1v1h-1zM880,197h1v2h-1zM881,196h1v1h-1zM882,195h1v1h-1zM883,194h1v1h-1zM884,193h1v1h-1zM885,192h1v1h-1zM886,191h1v1h-1zM887,190h1v1h-1zM888,190h1v1h-1zM889,189h1v1h-1zM890,188h1v1h-1zM891,187h1v1h-1zM892,187h1v1h-1zM893,186h1v1h-1zM894,185h1v1h-1zM895,184h1v1h-1zM896,182h1v2h-1zM897,181h1v1h-1zM898,180h1v1h-1zM899,179h1v1h-1zM900,177h1v2h-1zM901,176h1v1h-1zM902,175h1v1h-1zM903,174h1v1h-1zM904,173h1v1h-1zM905,172h1v1h-1zM906,171h1v1h-1zM907,170h1v1h-1zM908,169h1v1h-1zM909,168h1v1h-1zM910,168h1v2h-1zM911,166h1v2h-1zM912,164h1v2h-1zM913,162h1v2h-1zM914,160h1v2h-1zM915,159h1v1h-1zM916,157h1v2h-1zM917,155h1v2h-1zM918,154h1v1h-1zM919,152h1v2h-1zM920,150h1v2h-1zM921,149h1v1h-1zM922,147h1v2h-1zM923,145h1v2h-1zM924,143h1v2h-1zM925,142h1v1h-1zM926,141h1v1h-1z"/>
<path shape-rendering="crispEdges" fill="#ff0000" d="M5,133h1v1h-1zM6,134h1v1h-1zM7,135h1v1h-1zM8,136h1v1h-1zM9,136h1v1h-1zM10,137h1v1h-1zM11,138h1v1h-1zM12,139h1v1h-1zM13,139h1v1h-1zM14,140h1v1h-1zM15,141h1v1h-1zM16,142h1v1h-1zM17,143h1v2h-1zM18,145h1v1h-1zM19,146h1v2h-1zM20,148h1v1h-1zM21,149h1v2h-1zM22,151h1v2h-1zM23,153h1v1h-1zM24,154h1v2h-1zM25,156h1v2h-1zM26,158h1v1h-1zM27,159h1v2h-1zM28,161h1v1h-1zM29,162h1v2h-1zM30,164h1v1h-1zM31,165h1v2h-1zM32,167h1v1h-1zM33,168h1v1h-1zM34,169h1v1h-1zM35,170h1v2h-1zM36,172h1v1h-1zM37,172h1v1h-1zM38,173h1v1h-1zM39,173h1v1h-1zM40,174h1v1h-1zM41,174h1v1h-1zM42,175h1v1h-1zM43,176h1v1h-1zM44,177h1v2h-1zM45,179h1v1h-1zM46,180h1v1h-1zM47,181h1v1h-1zM48,182h1v1h-1zM49,183h1v1h-1zM50,184h1v1h-1zM51,185h1v1h-1zM52,186h1v1h-1zM53,187h1v1h-1zM54,187h1v1h-1zM55,188h1v1h-1zM56,188h1v1h-1zM57,189h1v1h-1zM58,190h1v2h-1zM59,192h1v1h-1zM60,193h1v2h-1zM61,195h1v1h-1zM62,196h1v2h-1zM63,198h1v1h-1zM64,198h1v1h-1zM65,198h1v1h-1zM66,199h1v1h-1zM67,199h1v1h-1zM68,199h1v1h-1zM69,199h1v1h-1zM70,200h1v1h-1zM71,200h1v1h-1zM72,200h1v1h-1zM73,199h1v1h-1zM74,199h1v1h-1zM75,198h1v1h-1zM76,198h1v1h-1zM77,198h1v1h-1zM78,197h1v1h-1zM79,197h1v1h-1zM80,196h1v1h-1zM81,196h1v1h-1zM82,196h1v1h-1zM83,196h1v1h-1zM84,196h1v1h-1zM85,197h1v1h-1zM86,197h1v1h-1zM87,197h1v1h-1zM88,197h1v1h-1zM89,197h1v1h-1zM90,198h1v1h-1zM91,198h1v1h-1zM92,198h1v1h-1zM93,198h1v1h-1zM94,198h1v1h-1zM95,199h1v1h-1zM96,199h1v1h-1zM97,199h1v1h-1zM98,199h1v1h-1zM99,199h1v1h-1zM100,199h1v1h-1zM101,200h1v1h-1zM102,200h1v1h-1zM103,200h1v1h-1zM104,200h1v1h-1zM105,200h1v1h-1zM106,200h1v1h-1zM107,200h1v1h-1zM108,200h1v1h-1zM109,200h1v1h-1zM110,200h1v1h-1zM111,200h1v1h-1zM112,201h1v1h-1zM113,201h1v1h-1zM114,201h1v1h-1zM115,201h1v1h-1zM116,201h1v1h-1zM117,202h1v1h-1zM118,202h1v1h-1zM119,203h1v1h-1zM120,204h1v1h-1zM121,205h1v1h-1zM122,206h1v1h-1zM123,207h1v2h-1zM124,209h1v2h-1zM125,211h1v1h-1zM126,212h1v2h-1zM127,214h1v2h-1zM128,216h1v2h-1zM129,218h1v2h-1zM130,220h1v2h-1zM131,222h1v3h-1zM132,225h1v2h-1zM133,227h1v3h-1zM134,230h1v2h-1zM135,232h1v3h-1zM136,235h1v1h-1zM137,236h1v2h-1zM138,238h1v1h-1zM139,239h1v1h-1zM140,240h1v2h-1zM141,242h1v1h-1zM142,243h1v1h-1zM143,244h1v1h-1zM144,245h1v1h-1zM145,245h1v1h-1zM146,246h1v1h-1zM147,247h1v1h-1zM148,247h1v1h-1zM149,248h1v1h-1zM150,249h1v1h-1zM151,250h1v1h-1zM152,251h1v1h-1zM153,251h1v1h-1zM154,252h1v1h-1zM155,253h1v1h-1zM156,254h1v1h-1zM157,255h1v1h-1zM158,256h1v1h-1zM159,256h1v1h-1zM160,257h1v1h-1zM161,257h1v1h-1zM162,258h1v1h-1zM163,258h1v1h-1zM164,259h1v1h-1zM165,259h1v1h-1zM166,260h1v1h-1zM167,260h1v1h-1zM168,260h1v1h-1zM169,260h1v1h-1zM170,260h1v1h-1zM171,260h1v1h-1zM172,259h1v1h-1zM173,259h1v1h-1zM174,258h1v1h-1zM175,256h1v2h-1zM176,254h1v2h-1zM177,253h1v1h-1zM178,251h1v2h-1zM179,249h1v2h-1zM180,246h1v3h-1zM181,244h1v2h-1zM182,242h1v2h-1zM183,240h1v2h-1zM184,237h1v3h-1zM185,235h1v2h-1zM186,233h1v2h-1zM187,230h1v3h-1zM188,228h1v2h-1zM189,225h1v3h-1zM190,223h1v2h-1zM191,220h1v3h-1zM192,218h1v2h-1zM193,216h1v2h-1zM194,214h1v2h-1zM195,212h1v2h-1zM196,210h1v2h-1zM197,209h1v1h-1zM198,208h1v1h-1zM199,207h1v1h-1zM200,206h1v1h-1zM201,205h1v1h-1zM202,203h1v2h-1zM203,202h1v1h-1zM204,201h1v1h-1zM205,200h1v1h-1zM206,199h1v1h-1zM207,198h1v1h-1zM208,198h1v1h-1zM209,197h1v1h-1zM210,197h1v1h-1zM211,196h1v1h-1zM212,196h1v1h-1zM213,195h1v1h-1zM214,195h1v1h-1zM215,194h1v1h-1zM216,194h1v1h-1zM217,193h1v1h-1zM218,193h1v1h-1zM219,193h1v1h-1zM220,192h1v1h-1zM221,192h1v1h-1zM222,192h1v1h-1zM223,192h1v1h-1zM224,193h1v1h-1zM225,193h1v1h-1zM226,194h1v1h-1zM227,194h1v1h-1zM228,195h1v1h-1zM229,196h1v1h-1zM230,197h1v2h-1zM231,199h1v1h-1zM232,200h1v1h-1zM233,201h1v1h-1zM234,202h1v2h-1zM235,204h1v2h-1zM236,206h1v2h-1zM237,208h1v3h-1zM238,211h1v2h-1zM239,213h1v2h-1zM240,215h1v2h-1zM241,217h1v2h-1zM242,219h1v1h-1zM243,220h1v2h-1zM244,222h1v1h-1zM245,223h1v2h-1zM246,225h1v1h-1zM247,226h1v1h-1zM248,227h1v1h-1zM249,228h1v1h-1zM250,229h1v1h-1zM251,230h1v1h-1zM252,231h1v1h-1zM253,232h1v1h-1zM254,232h1v1h-1zM255,233h1v1h-1zM256,234h1v1h-1zM257,235h1v1h-1zM258,236h1v1h-1zM259,237h1v1h-1zM260,238h1v1h-1zM261,239h1v1h-1zM262,240h1v1h-1zM263,241h1v1h-1zM264,242h1v1h-1zM265,243h1v1h-1zM266,244h1v2h-1zM267,246h1v1h-1zM268,247h1v1h-1zM269,248h1v1h-1zM270,249h1v1h-1zM271,250h1v1h-1zM272,251h1v1h-1zM273,252h1v1h-1zM274,253h1v1h-1zM275,254h1v1h-1zM276,254h1v1h-1zM277,255h1v1h-1zM278,255h1v1h-1zM279,256h1v1h-1zM280,256h1v1h-1zM281,256h1v1h-1zM282,257h1v1h-1zM283,257h1v1h-1zM284,257h1v1h-1zM285,257h1v1h-1zM286,257h1v1h-1zM287,257h1v1h-1zM288,256h1v1h-1zM289,256h1v1h-1zM290,256h1v1h-1zM291,255h1v1h-1zM292,255h1v1h-1zM293,254h1v1h-1zM294,254h1v1h-1zM295,253h1v1h-1zM296,252h1v1h-1zM297,252h1v1h-1zM298,251h1v1h-1zM299,251h1v1h-1zM300,250h1v1h-1zM301,250h1v1h-1zM302,250h1v1h-1zM303,249h1v1h-1zM304,249h1v1h-1zM305,248h1v1h-1zM306,248h1v1h-1zM307,247h1v1h-1zM308,246h1v1h-1zM309,246h1v1h-1zM310,245h1v1h-1zM311,244h1v1h-1zM312,243h1v1h-1zM313,242h1v1h-1zM314,241h1v1h-1zM315,241h1v1h-1zM316,239h1v2h-1zM317,238h1v1h-1zM318,236h1v2h-1zM319,235h1v1h-1zM320,233h1v2h-1zM321,232h1v1h-1zM322,230h1v2h-1zM323,228h1v2h-1zM324,226h1v2h-1zM325,224h1v2h-1zM326,222h1v2h-1zM327,220h1v2h-1zM328,218h1v2h-1zM329,216h1v2h-1zM330,215h1v1h-1zM331,213h1v2h-1zM332,211h1v2h-1zM333,209h1v2h-1zM334,208h1v1h-1zM335,206h1v2h-1zM336,204h1v2h-1zM337,202h1v2h-1zM338,200h1v2h-1zM339,198h1v2h-1zM340,196h1v2h-1zM341,195h1v1h-1zM342,193h1v2h-1zM343,191h1v2h-1zM344,189h1v2h-1zM345,188h1v1h-1zM346,186h1v2h-1zM347,184h1v2h-1zM348,183h1v1h-1zM349,181h1v2h-1zM350,179h1v2h-1zM351,178h1v1h-1zM352,176h1v2h-1zM353,174h1v2h-1zM354,173h1v1h-1zM355,171h1v2h-1zM356,169h1v2h-1zM357,167h1v2h-1zM358,166h1v1h-1zM359,164h1v2h-1zM360,162h1v2h-1zM361,160h1v2h-1zM362,158h1v2h-1zM363,157h1v1h-1zM364,155h1v2h-1zM365,153h1v2h-1zM366,152h1v1h-1zM367,150h1v2h-1zM368,148h1v2h-1zM369,147h1v1h-1zM370,146h1v1h-1zM371,145h1v1h-1zM372,144h1v1h-1zM373,143h1v1h-1zM374,142h1v1h-1zM375,141h1v1h-1zM376,140h1v1h-1zM377,139h1v1h-1zM378,138h1v1h-1zM379,137h1v1h-1zM380,137h1v1h-1zM381,136h1v1h-1zM382,135h1v1h-1zM383,134h1v1h-1zM384,134h1v1h-1zM385,133h1v1h-1zM386,133h1v1h-1zM387,133h1v1h-1zM388,133h1v1h-1zM389,132h1v1h-1zM390,133h1v1h-1zM391,133h1v1h-1zM392,134h1v1h-1zM393,135h1v1h-1zM394,135h1v1h-1zM395,136h1v1h-1zM396,137h1v1h-1zM397,138h1v1h-1zM398,139h1v1h-1zM399,140h1v1h-1zM400,141h1v1h-1zM401,141h1v1h-1zM402,142h1v1h-1zM403,142h1v1h-1zM404,143h1v1h-1zM405,143h1v1h-1zM406,144h1v1h-1zM407,145h1v1h-1zM408,146h1v1h-1zM409,147h1v2h-1zM410,149h1v1h-1zM411,150h1v1h-1zM412,151h1v2h-1zM413,153h1v2h-1zM414,155h1v2h-1zM415,157h1v1h-1zM416,158h1v2h-1zM417,160h1v2h-1zM418,162h1v2h-1zM419,164h1v2h-1zM420,166h1v2h-1zM421,168h1v1h-1zM422,169h1v2h-1zM423,171h1v1h-1zM424,172h1v2h-1zM425,174h1v2h-1zM426,176h1v2h-1zM427,178h1v2h-1zM428,180h1v2h-1zM429,182h1v2h-1zM430,184h1v1h-1zM431,185h1v2h-1zM432,187h1v1h-1zM433,188h1v2h-1zM434,190h1v2h-1zM435,192h1v2h-1zM436,194h1v2h-1zM437,196h1v2h-1zM438,198h1v2h-1zM439,200h1v1h-1zM440,201h1v3h-1zM441,204h1v2h-1zM442,206h1v2h-1zM443,208h1v2h-1zM444,210h1v2h-1zM445,212h1v2h-1zM446,214h1v2h-1zM447,216h1v2h-1zM448,218h1v2h-1zM449,220h1v1h-1zM450,221h1v2h-1zM451,223h1v1h-1zM452,224h1v2h-1zM453,226h1v1h-1zM454,227h1v2h-1zM455,229h1v1h-1zM456,230h1v2h-1zM457,232h1v2h-1zM458,234h1v2h-1zM459,236h1v2h-1zM460,238h1v2h-1zM461,240h1v2h-1zM462,242h1v2h-1zM463,244h1v2h-1zM464,246h1v2h-1zM465,248h1v2h-1zM466,250h1v2h-1zM467,252h1v2h-1zM468,254h1v2h-1zM469,256h1v2h-1zM470,258h1v1h-1zM471,259h1v1h-1zM472,260h1v1h-1zM473,261h1v1h-1zM474,262h1v2h-1zM475,264h1v2h-1zM476,266h1v3h-1zM477,269h1v2h-1zM478,271h1v2h-1zM479,273h1v2h-1zM480,275h1v2h-1zM481,277h1v2h-1zM482,279h1v2h-1zM483,281h1v2h-1zM484,283h1v3h-1zM485,286h1v2h-1zM486,288h1v2h-1zM487,290h1v2h-1zM488,292h1v2h-1zM489,294h1v2h-1zM490,296h1v2h-1zM491,298h1v2h-1zM492,300h1v2h-1zM493,302h1v3h-1zM494,305h1v2h-1zM495,307h1v3h-1zM496,310h1v3h-1zM497,313h1v2h-1zM498,315h1v2h-1zM499,317h1v1h-1zM500,318h1v2h-1zM501,320h1v1h-1zM502,321h1v1h-1zM503,322h1v1h-1zM504,323h1v1h-1zM505,324h1v1h-1zM506,325h1v1h-1zM507,326h1v1h-1zM508,327h1v1h-1zM509,328h1v1h-1zM510,328h1v1h-1zM511,329h1v1h-1zM512,329h1v1h-1zM513,330h1v1h-1zM514,330h1v1h-1zM515,331h1v1h-1zM516,331h1v1h-1zM517,331h1v1h-1zM518,331h1v1h-1zM519,331h1v1h-1zM520,331h1v1h-1zM521,332h1v1h-1zM522,332h1v1h-1zM523,332h1v1h-1zM524,332h1v1h-1zM525,332h1v1h-1zM526,332h1v1h-1zM527,331h1v1h-1zM528,331h1v1h-1zM529,331h1v1h-1zM530,331h1v1h-1zM531,331h1v1h-1zM532,331h1v1h-1zM533,331h1v1h-1zM534,331h1v1h-1zM535,331h1v1h-1zM536,330h1v1h-1zM537,330h1v1h-1zM538,330h1v1h-1zM539,329h1v1h-1zM540,329h1v1h-1zM541,329h1v1h-1zM542,328h1v1h-1zM543,328h1v1h-1zM544,327h1v1h-1zM545,326h1v1h-1zM546,325h1v1h-1zM547,324h1v1h-1zM548,323h1v1h-1zM549,322h1v1h-1zM550,321h1v1h-1zM551,321h1v1h-1zM552,320h1v1h-1zM553,319h1v1h-1zM554,318h1v1h-1zM555,317h1v1h-1zM556,316h1v1h-1zM557,315h1v1h-1zM558,314h1v1h-1zM559,313h1v1h-1zM560,312h1v1h-1zM561,310h1v2h-1zM562,309h1v1h-1zM563,308h1v1h-1zM564,307h1v1h-1zM565,306h1v1h-1zM566,305h1v1h-1zM567,304h1v1h-1zM568,303h1v1h-1zM569,302h1v1h-1zM570,302h1v1h-1zM571,301h1v1h-1zM572,301h1v1h-1zM573,300h1v1h-1zM574,300h1v1h-1zM575,299h1v1h-1zM576,298h1v1h-1zM577,298h1v1h-1zM578,297h1v1h-1zM579,296h1v1h-1zM580,295h1v1h-1zM581,293h1v2h-1zM582,292h1v1h-1zM583,291h1v1h-1zM584,289h1v2h-1zM585,288h1v1h-1zM586,287h1v1h-1zM587,286h1v1h-1zM588,285h1v1h-1zM589,284h1v1h-1zM590,283h1v1h-1zM591,282h1v1h-1zM592,281h1v1h-1zM593,280h1v1h-1zM594,280h1v1h-1zM595,279h1v1h-1zM596,278h1v1h-1zM597,277h1v1h-1zM598,276h1v1h-1zM599,275h1v1h-1zM600,274h1v1h-1zM601,273h1v1h-1zM602,273h1v1h-1zM603,272h1v1h-1zM604,271h1v1h-1zM605,270h1v1h-1zM606,269h1v1h-1zM607,269h1v1h-1zM608,269h1v1h-1zM609,269h1v1h-1zM610,269h1v1h-1zM611,269h1v1h-1zM612,270h1v1h-1zM613,270h1v1h-1zM614,270h1v1h-1zM615,271h1v1h-1zM616,271h1v1h-1zM617,271h1v1h-1zM618,272h1v1h-1zM619,272h1v1h-1zM620,273h1v1h-1zM621,273h1v1h-1zM622,273h1v1h-1zM623,273h1v1h-1zM624,273h1v1h-1zM625,273h1v1h-1zM626,273h1v1h-1zM627,273h1v1h-1zM628,273h1v1h-1zM629,273h1v1h-1zM630,272h1v1h-1zM631,272h1v1h-1zM632,272h1v1h-1zM633,271h1v1h-1zM634,272h1v1h-1zM635,272h1v1h-1zM636,272h1v1h-1zM637,272h1v1h-1zM638,272h1v1h-1zM639,272h1v1h-1zM640,272h1v1h-1zM641,273h1v1h-1zM642,274h1v1h-1zM643,275h1v1h-1zM644,275h1v1h-1zM645,276h1v1h-1zM646,277h1v1h-1zM647,277h1v1h-1zM648,278h1v1h-1zM649,278h1v1h-1zM650,278h1v1h-1zM651,278h1v1h-1zM652,278h1v1h-1zM653,278h1v1h-1zM654,278h1v1h-1zM655,278h1v1h-1zM656,278h1v1h-1zM657,278h1v1h-1zM658,278h1v1h-1zM659,279h1v1h-1zM660,279h1v1h-1zM661,279h1v1h-1zM662,280h1v1h-1zM663,280h1v1h-1zM664,280h1v1h-1zM665,280h1v1h-1zM666,280h1v1h-1zM667,281h1v1h-1zM668,281h1v1h-1zM669,281h1v1h-1zM670,281h1v1h-1zM671,281h1v1h-1zM672,282h1v1h-1zM673,282h1v1h-1zM674,282h1v1h-1zM675,283h1v1h-1zM676,283h1v1h-1zM677,284h1v2h-1zM678,286h1v1h-1zM679,287h1v1h-1zM680,288h1v2h-1zM681,290h1v2h-1zM682,292h1v3h-1zM683,295h1v3h-1zM684,298h1v3h-1zM685,301h1v2h-1zM686,303h1v2h-1zM687,305h1v2h-1zM688,307h1v1h-1zM689,308h1v2h-1zM690,310h1v2h-1zM691,312h1v1h-1zM692,313h1v1h-1zM693,314h1v1h-1zM694,315h1v1h-1zM695,316h1v1h-1zM696,317h1v1h-1zM697,318h1v1h-1zM698,319h1v1h-1zM699,320h1v1h-1zM700,321h1v1h-1zM701,322h1v1h-1zM702,323h1v1h-1zM703,324h1v1h-1zM704,325h1v1h-1zM705,326h1v1h-1zM706,327h1v2h-1zM707,329h1v1h-1zM708,330h1v2h-1zM709,332h1v1h-1zM710,333h1v1h-1zM711,334h1v1h-1zM712,334h1v1h-1zM713,335h1v1h-1zM714,336h1v1h-1zM715,337h1v1h-1zM716,337h1v1h-1zM717,338h1v1h-1zM718,338h1v1h-1zM719,339h1v1h-1zM720,339h1v1h-1zM721,339h1v1h-1zM722,339h1v1h-1zM723,339h1v1h-1zM724,339h1v1h-1zM725,339h1v1h-1zM726,339h1v1h-1zM727,339h1v1h-1zM728,339h1v1h-1zM729,339h1v1h-1zM730,339h1v1h-1zM731,338h1v1h-1zM732,338h1v1h-1zM733,338h1v1h-1zM734,338h1v1h-1zM735,337h1v1h-1zM736,336h1v1h-1zM737,335h1v1h-1zM738,334h1v1h-1zM739,333h1v1h-1zM740,331h1v2h-1zM741,329h1v2h-1zM742,328h1v1h-1zM743,326h1v2h-1zM744,325h1v1h-1zM745,324h1v1h-1zM746,323h1v1h-1zM747,321h1v2h-1zM748,320h1v1h-1zM749,319h1v1h-1zM750,318h1v1h-1zM751,317h1v1h-1zM752,317h1v1h-1zM753,317h1v1h-1zM754,316h1v1h-1zM755,316h1v1h-1zM756,315h1v1h-1zM757,315h1v1h-1zM758,314h1v1h-1zM759,314h1v1h-1zM760,314h1v1h-1zM761,313h1v1h-1zM762,312h1v1h-1zM763,311h1v1h-1zM764,309h1v2h-1zM765,308h1v1h-1zM766,307h1v1h-1zM767,305h1v2h-1zM768,304h1v1h-1zM769,303h1v1h-1zM770,303h1v1h-1zM771,302h1v1h-1zM772,301h1v1h-1zM773,300h1v1h-1zM774,300h1v1h-1zM775,299h1v1h-1zM776,299h1v1h-1zM777,299h1v1h-1zM778,298h1v1h-1zM779,298h1v1h-1zM780,298h1v1h-1zM781,298h1v1h-1zM782,298h1v1h-1zM783,298h1v1h-1zM784,297h1v1h-1zM785,296h1v1h-1zM786,296h1v1h-1zM787,295h1v1h-1zM788,294h1v1h-1zM789,294h1v1h-1zM790,292h1v2h-1zM791,291h1v1h-1zM792,289h1v2h-1zM793,287h1v2h-1zM794,286h1v1h-1zM795,284h1v2h-1zM796,282h1v2h-1zM797,280h1v2h-1zM798,279h1v1h-1zM799,277h1v2h-1zM800,275h1v2h-1zM801,273h1v2h-1zM802,271h1v2h-1zM803,269h1v2h-1zM804,268h1v1h-1zM805,266h1v2h-1zM806,264h1v2h-1zM807,263h1v1h-1zM808,261h1v2h-1zM809,260h1v1h-1zM810,258h1v2h-1zM811,257h1v1h-1zM812,256h1v1h-1zM813,255h1v1h-1zM814,253h1v2h-1zM815,252h1v1h-1zM816,251h1v1h-1zM817,250h1v1h-1zM818,249h1v1h-1zM819,248h1v1h-1zM820,247h1v1h-1zM821,246h1v1h-1zM822,244h1v2h-1zM823,243h1v1h-1zM824,242h1v1h-1zM825,241h1v1h-1zM826,240h1v1h-1zM827,239h1v1h-1zM828,238h1v1h-1zM829,237h1v1h-1zM830,236h1v1h-1zM831,236h1v1h-1zM832,235h1v1h-1zM833,234h1v1h-1zM834,233h1v1h-1zM835,233h1v1h-1zM836,233h1v1h-1zM837,233h1v1h-1zM838,233h1v1h-1zM839,233h1v1h-1zM840,233h1v1h-1zM841,233h1v1h-1zM842,233h1v1h-1zM843,233h1v1h-1zM844,232h1v1h-1zM845,232h1v1h-1zM846,231h1v1h-1zM847,230h1v1h-1zM848,230h1v1h-1zM849,229h1v1h-1zM850,228h1v1h-1zM851,227h1v1h-1zM852,226h1v1h-1zM853,225h1v1h-1zM854,224h1v1h-1zM855,223h1v1h-1zM856,222h1v1h-1zM857,222h1v1h-1zM858,221h1v1h-1zM859,221h1v1h-1zM860,220h1v1h-1zM861,220h1v1h-1zM862,219h1v1h-1zM863,219h1v1h-1zM864,218h1v1h-1zM865,217h1v1h-1zM866,216h1v1h-1zM867,214h1v2h-1zM868,213h1v1h-1zM869,211h1v2h-1zM870,209h1v2h-1zM871,206h1v3h-1zM872,204h1v2h-1zM873,202h1v2h-1zM874,200h1v2h-1zM875,198h1v2h-1zM876,197h1v1h-1zM877,195h1v2h-1zM878,194h1v1h-1zM879,192h1v2h-1zM880,191h1v1h-1zM881,189h1v2h-1zM882,187h1v2h-1zM883,185h1v2h-1zM884,183h1v2h-1zM885,181h1v2h-1zM886,179h1v2h-1zM887,177h1v2h-1zM888,174h1v3h-1zM889,172h1v2h-1zM890,169h1v3h-1zM891,167h1v2h-1zM892,164h1v3h-1zM893,161h1v3h-1zM894,158h1v3h-1zM895,155h1v3h-1zM896,152h1v3h-1zM897,150h1v2h-1zM898,148h1v2h-1zM899,146h1v2h-1zM900,145h1v1h-1zM901,144h1v1h-1zM902,143h1v1h-1zM903,142h1v1h-1zM904,141h1v1h-1zM905,140h1v1h-1zM906,139h1v1h-1zM907,138h1v1h-1zM908,137h1v1h-1zM909,136h1v1h-1zM910,134h1v3h-1zM911,132h1v2h-1zM912,130h1v2h-1zM913,128h1v2h-1zM914,127h1v1h-1zM915,126h1v1h-1zM916,125h1v1h-1zM917,124h1v1h-1zM918,124h1v1h-1zM919,124h1v1h-1zM920,124h1v1h-1zM921,123h1v1h-1zM922,123h1v1h-1zM923,123h1v1h-1zM924,123h1v1h-1zM925,123h1v1h-1z"/>
<path shape-rendering="crispEdges" fill="#ff0000" d="M5,471h1v1h-1zM6,471h1v1h-1zM7,472h1v1h-1zM8,472h1v1h-1zM9,472h1v1h-1zM10,472h1v1h-1zM11,472h1v1h-1zM12,472h1v1h-1zM13,472h1v1h-1zM14,472h1v1h-1zM15,472h1v1h-1zM16,472h1v1h-1zM17,473h1v1h-1zM18,473h1v1h-1zM19,473h1v1h-1zM20,473h1v1h-1zM21,473h1v1h-1zM22,473h1v1h-1zM23,473h1v1h-1zM24,473h1v1h-1zM25,474h1v1h-1zM26,474h1v1h-1zM27,474h1v1h-1zM28,474h1v1h-1zM29,474h1v1h-1zM30,474h1v1h-1zM31,474h1v1h-1zM32,475h1v1h-1zM33,475h1v1h-1zM34,475h1v1h-1zM35,475h1v1h-1zM36,475h1v1h-1zM37,475h1v1h-1zM38,475h1v1h-1zM39,475h1v1h-1zM40,475h1v1h-1zM41,475h1v1h-1zM42,475h1v1h-1zM43,475h1v1h-1zM44,475h1v1h-1zM45,476h1v1h-1zM46,476h1v1h-1zM47,476h1v1h-1zM48,476h1v1h-1zM49,476h1v1h-1zM50,476h1v1h-1zM51,476h1v1h-1zM52,476h1v1h-1zM53,476h1v1h-1zM54,475h1v1h-1zM55,475h1v1h-1zM56,475h1v1h-1zM57,475h1v1h-1zM58,475h1v1h-1zM59,475h1v1h-1zM60,475h1v1h-1zM61,474h1v1h-1zM62,474h1v1h-1zM63,474h1v1h-1zM64,474h1v1h-1zM65,473h1v1h-1zM66,473h1v1h-1zM67,473h1v1h-1zM68,473h1v1h-1zM69,472h1v1h-1zM70,472h1v1h-1zM71,472h1v1h-1zM72,472h1v1h-1zM73,471h1v1h-1zM74,471h1v1h-1zM75,471h1v1h-1zM76,471h1v1h-1zM77,470h1v1h-1zM78,470h1v1h-1zM79,470h1v1h-1zM80,469h1v1h-1zM81,469h1v1h-1zM82,469h1v1h-1zM83,469h1v1h-1zM84,468h1v1h-1zM85,468h1v1h-1zM86,468h1v1h-1zM87,468h1v1h-1zM88,468h1v1h-1zM89,467h1v1h-1zM90,467h1v1h-1zM91,467h1v1h-1zM92,467h1v1h-1zM93,467h1v1h-1zM94,467h1v1h-1zM95,467h1v1h-1zM96,467h1v1h-1zM97,466h1v1h-1zM98,466h1v1h-1zM99,466h1v1h-1zM100,466h1v1h-1zM101,466h1v1h-1zM102,466h1v1h-1zM103,466h1v1h-1zM104,466h1v1h-1zM105,465h1v1h-1zM106,465h1v1h-1zM107,465h1v1h-1zM108,465h1v1h-1zM109,465h1v1h-1zM110,465h1v1h-1zM111,465h1v1h-1zM112,465h1v1h-1zM113,464h1v1h-1zM114,464h1v1h-1zM115,464h1v1h-1zM116,464h1v1h-1zM117,464h1v1h-1zM118,464h1v1h-1zM119,464h1v1h-1zM120,464h1v1h-1zM121,464h1v1h-1zM122,464h1v1h-1zM123,464h1v1h-1zM124,464h1v1h-1zM125,464h1v1h-1zM126,464h1v1h-1zM127,464h1v1h-1zM128,464h1v1h-1zM129,464h1v1h-1zM130,465h1v1h-1zM131,465h1v1h-1zM132,465h1v1h-1zM133,466h1v1h-1zM134,466h1v1h-1zM135,466h1v1h-1zM136,467h1v1h-1zM137,467h1v1h-1zM138,467h1v1h-1zM139,468h1v1h-1zM140,468h1v1h-1zM141,468h1v1h-1zM142,469h1v1h-1zM143,469h1v1h-1zM144,469h1v1h-1zM145,470h1v1h-1zM146,470h1v1h-1zM147,471h1v1h-1zM148,471h1v1h-1zM149,471h1v1h-1zM150,472h1v1h-1zM151,472h1v1h-1zM152,472h1v1h-1zM153,472h1v1h-1zM154,473h1v1h-1zM155,473h1v1h-1zM156,473h1v1h-1zM157,473h1v1h-1zM158,473h1v1h-1zM159,473h1v1h-1zM160,473h1v1h-1zM161,473h1v1h-1zM162,473h1v1h-1zM163,473h1v1h-1zM164,473h1v1h-1zM165,472h1v1h-1zM166,472h1v1h-1zM167,472h1v1h-1zM168,471h1v1h-1zM169,471h1v1h-1zM170,470h1v1h-1zM171,470h1v1h-1zM172,469h1v1h-1zM173,469h1v1h-1zM174,468h1v1h-1zM175,467h1v1h-1zM176,467h1v1h-1zM177,466h1v1h-1zM178,465h1v1h-1zM179,464h1v1h-1zM180,463h1v1h-1zM181,463h1v1h-1zM182,462h1v1h-1zM183,461h1v1h-1zM184,460h1v1h-1zM185,459h1v1h-1zM186,459h1v1h-1zM187,458h1v1h-1zM188,457h1v1h-1zM189,456h1v1h-1zM190,456h1v1h-1zM191,455h1v1h-1zM192,454h1v1h-1zM193,454h1v1h-1zM194,453h1v1h-1zM195,453h1v1h-1zM196,452h1v1h-1zM197,451h1v1h-1zM198,451h1v1h-1zM199,450h1v1h-1zM200,450h1v1h-1zM201,449h1v1h-1zM202,449h1v1h-1zM203,449h1v1h-1zM204,448h1v1h-1zM205,448h1v1h-1zM206,447h1v1h-1zM207,447h1v1h-1zM208,447h1v1h-1zM209,446h1v1h-1zM210,446h1v1h-1zM211,446h1v1h-1zM212,446h1v1h-1zM213,446h1v1h-1zM214,445h1v1h-1zM215,445h1v1h-1zM216,445h1v1h-1zM217,445h1v1h-1zM218,445h1v1h-1zM219,445h1v1h-1zM220,445h1v1h-1zM221,445h1v1h-1zM222,445h1v1h-1zM223,445h1v1h-1zM224,446h1v1h-1zM225,446h1v1h-1zM226,446h1v1h-1zM227,447h1v1h-1zM228,447h1v1h-1zM229,447h1v1h-1zM230,447h1v1h-1zM231,448h1v1h-1zM232,448h1v1h-1zM233,449h1v1h-1zM234,449h1v1h-1zM235,449h1v1h-1zM236,450h1v1h-1zM237,450h1v1h-1zM238,451h1v1h-1zM239,451h1v1h-1zM240,451h1v1h-1zM241,452h1v1h-1zM242,452h1v1h-1zM243,453h1v1h-1zM244,453h1v1h-1zM245,453h1v1h-1zM246,454h1v1h-1zM247,454h1v1h-1zM248,455h1v1h-1zM249,455h1v1h-1zM250,455h1v1h-1zM251,456h1v1h-1zM252,456h1v1h-1zM253,456h1v1h-1zM254,457h1v1h-1zM255,457h1v1h-1zM256,457h1v1h-1zM257,458h1v1h-1zM258,458h1v1h-1zM259,459h1v1h-1zM260,459h1v1h-1zM261,459h1v1h-1zM262,459h1v1h-1zM263,460h1v1h-1zM264,460h1v1h-1zM265,460h1v1h-1zM266,460h1v1h-1zM267,461h1v1h-1zM268,461h1v1h-1zM269,461h1v1h-1zM270,461h1v1h-1zM271,462h1v1h-1zM272,462h1v1h-1zM273,462h1v1h-1zM274,462h1v1h-1zM275,462h1v1h-1zM276,462h1v1h-1zM277,462h1v1h-1zM278,462h1v1h-1zM279,462h1v1h-1zM280,462h1v1h-1zM281,462h1v1h-1zM282,462h1v1h-1zM283,462h1v1h-1zM284,462h1v1h-1zM285,462h1v1h-1zM286,462h1v1h-1zM287,462h1v1h-1zM288,462h1v1h-1zM289,461h1v1h-1zM290,461h1v1h-1zM291,461h1v1h-1zM292,461h1v1h-1zM293,461h1v1h-1zM294,461h1v1h-1zM295,460h1v1h-1zM296,460h1v1h-1zM297,460h1v1h-1zM298,460h1v1h-1zM299,460h1v1h-1zM300,459h1v1h-1zM301,459h1v1h-1zM302,459h1v1h-1zM303,459h1v1h-1zM304,459h1v1h-1zM305,458h1v1h-1zM306,458h1v1h-1zM307,458h1v1h-1zM308,458h1v1h-1zM309,458h1v1h-1zM310,457h1v1h-1zM311,457h1v1h-1zM312,456h1v1h-1zM313,456h1v1h-1zM314,456h1v1h-1zM315,455h1v1h-1zM316,455h1v1h-1zM317,454h1v1h-1zM318,454h1v1h-1zM319,454h1v1h-1zM320,453h1v1h-1zM321,453h1v1h-1zM322,453h1v1h-1zM323,452h1v1h-1zM324,452h1v1h-1zM325,451h1v1h-1zM326,451h1v1h-1zM327,451h1v1h-1zM328,450h1v1h-1zM329,450h1v1h-1zM330,450h1v1h-1zM331,449h1v1h-1zM332,449h1v1h-1zM333,448h1v1h-1zM334,448h1v1h-1zM335,447h1v1h-1zM336,447h1v1h-1zM337,446h1v1h-1zM338,446h1v1h-1zM339,445h1v1h-1zM340,445h1v1h-1zM341,444h1v1h-1zM342,444h1v1h-1zM343,443h1v1h-1zM344,443h1v1h-1zM345,442h1v1h-1zM346,442h1v1h-1zM347,441h1v1h-1zM348,441h1v1h-1zM349,440h1v1h-1zM350,440h1v1h-1zM351,439h1v1h-1zM352,439h1v1h-1zM353,438h1v1h-1zM354,438h1v1h-1zM355,438h1v1h-1zM356,437h1v1h-1zM357,437h1v1h-1zM358,436h1v1h-1zM359,436h1v1h-1zM360,436h1v1h-1zM361,435h1v1h-1zM362,435h1v1h-1zM363,435h1v1h-1zM364,435h1v1h-1zM365,434h1v1h-1zM366,434h1v1h-1zM367,434h1v1h-1zM368,433h1v1h-1zM369,433h1v1h-1zM370,433h1v1h-1zM371,433h1v1h-1zM372,432h1v1h-1zM373,432h1v1h-1zM374,432h1v1h-1zM375,432h1v1h-1zM376,432h1v1h-1zM377,431h1v1h-1zM378,431h1v1h-1zM379,431h1v1h-1zM380,431h1v1h-1zM381,431h1v1h-1zM382,431h1v1h-1zM383,431h1v1h-1zM384,431h1v1h-1zM385,431h1v1h-1zM386,432h1v1h-1zM387,432h1v1h-1zM388,432h1v1h-1zM389,432h1v1h-1zM390,432h1v1h-1zM391,432h1v1h-1zM392,432h1v1h-1zM393,433h1v1h-1zM394,433h1v1h-1zM395,433h1v1h-1zM396,433h1v1h-1zM397,434h1v1h-1zM398,434h1v1h-1zM399,434h1v1h-1zM400,435h1v1h-1zM401,435h1v1h-1zM402,436h1v1h-1zM403,436h1v1h-1zM404,436h1v1h-1zM405,437h1v1h-1zM406,437h1v1h-1zM407,438h1v1h-1zM408,439h1v1h-1zM409,439h1v1h-1zM410,440h1v1h-1zM411,441h1v1h-1zM412,441h1v1h-1zM413,442h1v1h-1zM414,443h1v1h-1zM415,443h1v1h-1zM416,444h1v1h-1zM417,445h1v1h-1zM418,445h1v1h-1zM419,446h1v1h-1zM420,447h1v1h-1zM421,447h1v1h-1zM422,448h1v1h-1zM423,449h1v1h-1zM424,449h1v1h-1zM425,450h1v1h-1zM426,451h1v1h-1zM427,451h1v1h-1zM428,452h1v1h-1zM429,453h1v1h-1zM430,453h1v1h-1zM431,454h1v1h-1zM432,455h1v1h-1zM433,455h1v1h-1zM434,456h1v1h-1zM435,457h1v1h-1zM436,457h1v1h-1zM437,458h1v1h-1zM438,458h1v1h-1zM439,459h1v1h-1zM440,459h1v1h-1zM441,460h1v1h-1zM442,460h1v1h-1zM443,460h1v1h-1zM444,461h1v1h-1zM445,461h1v1h-1zM446,462h1v1h-1zM447,462h1v1h-1zM448,463h1v1h-1zM449,463h1v1h-1zM450,463h1v1h-1zM451,464h1v1h-1zM452,464h1v1h-1zM453,465h1v1h-1zM454,465h1v1h-1zM455,465h1v1h-1zM456,466h1v1h-1zM457,466h1v1h-1zM458,466h1v1h-1zM459,466h1v1h-1zM460,467h1v1h-1zM461,467h1v1h-1zM462,468h1v1h-1zM463,468h1v1h-1zM464,469h1v1h-1zM465,469h1v1h-1zM466,470h1v1h-1zM467,470h1v1h-1zM468,470h1v1h-1zM469,471h1v1h-1zM470,471h1v1h-1zM471,472h1v1h-1zM472,472h1v1h-1zM473,473h1v1h-1zM474,473h1v1h-1zM475,473h1v1h-1zM476,474h1v1h-1zM477,474h1v1h-1zM478,475h1v1h-1zM479,475h1v1h-1zM480,475h1v1h-1zM481,476h1v1h-1zM482,476h1v1h-1zM483,476h1v1h-1zM484,476h1v1h-1zM485,477h1v1h-1zM486,477h1v1h-1zM487,477h1v1h-1zM488,477h1v1h-1zM489,477h1v1h-1zM490,478h1v1h-1zM491,478h1v1h-1zM492,479h1v1h-1zM493,479h1v1h-1zM494,479h1v1h-1zM495,480h1v1h-1zM496,480h1v1h-1zM497,480h1v1h-1zM498,481h1v1h-1zM499,481h1v1h-1zM500,482h1v1h-1zM501,482h1v1h-1zM502,482h1v1h-1zM503,482h1v1h-1zM504,482h1v1h-1zM505,482h1v1h-1zM506,482h1v1h-1zM507,482h1v1h-1zM508,482h1v1h-1zM509,482h1v1h-1zM510,482h1v1h-1zM511,482h1v1h-1zM512,482h1v1h-1zM513,482h1v1h-1zM514,482h1v1h-1zM515,482h1v1h-1zM516,482h1v1h-1zM517,482h1v1h-1zM518,481h1v1h-1zM519,481h1v1h-1zM520,481h1v1h-1zM521,481h1v1h-1zM522,480h1v1h-1zM523,480h1v1h-1zM524,480h1v1h-1zM525,480h1v1h-1zM526,479h1v1h-1zM527,479h1v1h-1zM528,478h1v1h-1zM529,478h1v1h-1zM530,477h1v1h-1zM531,477h1v1h-1zM532,476h1v1h-1zM533,476h1v1h-1zM534,475h1v1h-1zM535,474h1v1h-1zM536,474h1v1h-1zM537,473h1v1h-1zM538,472h1v1h-1zM539,472h1v1h-1zM540,471h1v1h-1zM541,471h1v1h-1zM542,470h1v1h-1zM543,470h1v1h-1zM544,470h1v1h-1zM545,469h1v1h-1zM546,469h1v1h-1zM547,468h1v1h-1zM548,468h1v1h-1zM549,468h1v1h-1zM550,467h1v1h-1zM551,467h1v1h-1zM552,467h1v1h-1zM553,467h1v1h-1zM554,466h1v1h-1zM555,466h1v1h-1zM556,466h1v1h-1zM557,465h1v1h-1zM558,465h1v1h-1zM559,465h1v1h-1zM560,464h1v1h-1zM561,464h1v1h-1zM562,463h1v1h-1zM563,463h1v1h-1zM564,462h1v1h-1zM565,462h1v1h-1zM566,461h1v1h-1zM567,461h1v1h-1zM568,461h1v1h-1zM569,460h1v1h-1zM570,460h1v1h-1zM571,459h1v1h-1zM572,459h1v1h-1zM573,458h1v1h-1zM574,458h1v1h-1zM575,457h1v1h-1zM576,457h1v1h-1zM577,456h1v1h-1zM578,456h1v1h-1zM579,456h1v1h-1zM580,455h1v1h-1zM581,455h1v1h-1zM582,455h1v1h-1zM583,454h1v1h-1zM584,454h1v1h-1zM585,454h1v1h-1zM586,453h1v1h-1zM587,452h1v1h-1zM588,452h1v1h-1zM589,451h1v1h-1zM590,451h1v1h-1zM591,450h1v1h-1zM592,450h1v1h-1zM593,449h1v1h-1zM594,449h1v1h-1zM595,449h1v1h-1zM596,449h1v1h-1zM597,448h1v1h-1zM598,448h1v1h-1zM599,448h1v1h-1zM600,448h1v1h-1zM601,447h1v1h-1zM602,447h1v1h-1zM603,447h1v1h-1zM604,447h1v1h-1zM605,447h1v1h-1zM606,447h1v1h-1zM607,447h1v1h-1zM608,447h1v1h-1zM609,447h1v1h-1zM610,447h1v1h-1zM611,446h1v1h-1zM612,446h1v1h-1zM613,446h1v1h-1zM614,446h1v1h-1zM615,446h1v1h-1zM616,446h1v1h-1zM617,446h1v1h-1zM618,446h1v1h-1zM619,446h1v1h-1zM620,447h1v1h-1zM621,447h1v1h-1zM622,447h1v1h-1zM623,448h1v1h-1zM624,448h1v1h-1zM625,448h1v1h-1zM626,448h1v1h-1zM627,448h1v1h-1zM628,449h1v1h-1zM629,449h1v1h-1zM630,449h1v1h-1zM631,449h1v1h-1zM632,449h1v1h-1zM633,449h1v1h-1zM634,449h1v1h-1zM635,449h1v1h-1zM636,449h1v1h-1zM637,449h1v1h-1zM638,449h1v1h-1zM639,449h1v1h-1zM640,449h1v1h-1zM641,449h1v1h-1zM642,449h1v1h-1zM643,449h1v1h-1zM644,449h1v1h-1zM645,449h1v1h-1zM646,449h1v1h-1zM647,449h1v1h-1zM648,449h1v1h-1zM649,449h1v1h-1zM650,449h1v1h-1zM651,449h1v1h-1zM652,449h1v1h-1zM653,449h1v1h-1zM654,449h1v1h-1zM655,449h1v1h-1zM656,449h1v1h-1zM657,449h1v1h-1zM658,449h1v1h-1zM659,449h1v1h-1zM660,449h1v1h-1zM661,449h1v1h-1zM662,449h1v1h-1zM663,449h1v1h-1zM664,450h1v1h-1zM665,450h1v1h-1zM666,450h1v1h-1zM667,450h1v1h-1zM668,451h1v1h-1zM669,451h1v1h-1zM670,451h1v1h-1zM671,451h1v1h-1zM672,451h1v1h-1zM673,451h1v1h-1zM674,451h1v1h-1zM675,451h1v1h-1zM676,452h1v1h-1zM677,452h1v1h-1zM678,453h1v1h-1zM679,453h1v1h-1zM680,453h1v1h-1zM681,454h1v1h-1zM682,454h1v1h-1zM683,455h1v1h-1zM684,455h1v1h-1zM685,456h1v1h-1zM686,456h1v1h-1zM687,457h1v1h-1zM688,457h1v1h-1zM689,458h1v1h-1zM690,459h1v1h-1zM691,459h1v1h-1zM692,460h1v1h-1zM693,460h1v1h-1zM694,461h1v1h-1zM695,461h1v1h-1zM696,462h1v1h-1zM697,462h1v1h-1zM698,463h1v1h-1zM699,463h1v1h-1zM700,463h1v1h-1zM701,464h1v1h-1zM702,464h1v1h-1zM703,464h1v1h-1zM704,464h1v1h-1zM705,465h1v1h-1zM706,465h1v1h-1zM707,465h1v1h-1zM708,465h1v1h-1zM709,465h1v1h-1zM710,466h1v1h-1zM711,466h1v1h-1zM712,466h1v1h-1zM713,466h1v1h-1zM714,466h1v1h-1zM715,466h1v1h-1zM716,466h1v1h-1zM717,466h1v1h-1zM718,466h1v1h-1zM719,466h1v1h-1zM720,466h1v1h-1zM721,466h1v1h-1zM722,466h1v1h-1zM723,465h1v1h-1zM724,465h1v1h-1zM725,465h1v1h-1zM726,464h1v1h-1zM727,464h1v1h-1zM728,463h1v1h-1zM729,463h1v1h-1zM730,463h1v1h-1zM731,462h1v1h-1zM732,462h1v1h-1zM733,461h1v1h-1zM734,461h1v1h-1zM735,461h1v1h-1zM736,460h1v1h-1zM737,460h1v1h-1zM738,460h1v1h-1zM739,460h1v1h-1zM740,460h1v1h-1zM741,459h1v1h-1zM742,459h1v1h-1zM743,459h1v1h-1zM744,459h1v1h-1zM745,458h1v1h-1zM746,458h1v1h-1zM747,458h1v1h-1zM748,458h1v1h-1zM749,457h1v1h-1zM750,457h1v1h-1zM751,457h1v1h-1zM752,457h1v1h-1zM753,456h1v1h-1zM754,456h1v1h-1zM755,456h1v1h-1zM756,455h1v1h-1zM757,455h1v1h-1zM758,454h1v1h-1zM759,454h1v1h-1zM760,454h1v1h-1zM761,454h1v1h-1zM762,454h1v1h-1zM763,453h1v1h-1zM764,453h1v1h-1zM765,453h1v1h-1zM766,453h1v1h-1zM767,453h1v1h-1zM768,452h1v1h-1zM769,452h1v1h-1zM770,451h1v1h-1zM771,451h1v1h-1zM772,451h1v1h-1zM773,450h1v1h-1zM774,450h1v1h-1zM775,450h1v1h-1zM776,450h1v1h-1zM777,449h1v1h-1zM778,449h1v1h-1zM779,449h1v1h-1zM780,449h1v1h-1zM781,449h1v1h-1zM782,449h1v1h-1zM783,449h1v1h-1zM784,449h1v1h-1zM785,448h1v1h-1zM786,448h1v1h-1zM787,448h1v1h-1zM788,448h1v1h-1zM789,448h1v1h-1zM790,448h1v1h-1zM791,447h1v1h-1zM792,447h1v1h-1zM793,447h1v1h-1zM794,447h1v1h-1zM795,446h1v1h-1zM796,446h1v1h-1zM797,446h1v1h-1zM798,446h1v1h-1zM799,445h1v1h-1zM800,445h1v1h-1zM801,444h1v1h-1zM802,444h1v1h-1zM803,444h1v1h-1zM804,443h1v1h-1zM805,443h1v1h-1zM806,442h1v1h-1zM807,442h1v1h-1zM808,442h1v1h-1zM809,441h1v1h-1zM810,441h1v1h-1zM811,440h1v1h-1zM812,440h1v1h-1zM813,440h1v1h-1zM814,439h1v1h-1zM815,439h1v1h-1zM816,438h1v1h-1zM817,438h1v1h-1zM818,438h1v1h-1zM819,437h1v1h-1zM820,437h1v1h-1zM821,436h1v1h-1zM822,436h1v1h-1zM823,436h1v1h-1zM824,435h1v1h-1zM825,435h1v1h-1zM826,435h1v1h-1zM827,435h1v1h-1zM828,435h1v1h-1zM829,434h1v1h-1zM830,434h1v1h-1zM831,434h1v1h-1zM832,434h1v1h-1zM833,434h1v1h-1zM834,434h1v1h-1zM835,434h1v1h-1zM836,434h1v1h-1zM837,434h1v1h-1zM838,434h1v1h-1zM839,435h1v1h-1zM840,435h1v1h-1zM841,435h1v1h-1zM842,436h1v1h-1zM843,436h1v1h-1zM844,437h1v1h-1zM845,437h1v1h-1zM846,437h1v1h-1zM847,438h1v1h-1zM848,438h1v1h-1zM849,438h1v1h-1zM850,438h1v1h-1zM851,438h1v1h-1zM852,438h1v1h-1zM853,438h1v1h-1zM854,438h1v1h-1zM855,438h1v1h-1zM856,438h1v1h-1zM857,438h1v1h-1zM858,438h1v1h-1zM859,438h1v1h-1zM860,438h1v1h-1zM861,438h1v1h-1zM862,438h1v1h-1zM863,438h1v1h-1zM864,438h1v1h-1zM865,438h1v1h-1zM866,438h1v1h-1zM867,438h1v1h-1zM868,438h1v1h-1zM869,438h1v1h-1zM870,437h1v1h-1zM871,437h1v1h-1zM872,437h1v1h-1zM873,436h1v1h-1zM874,436h1v1h-1zM875,435h1v1h-1zM876,435h1v1h-1zM877,434h1v1h-1zM878,434h1v1h-1zM879,433h1v1h-1zM880,433h1v1h-1zM881,432h1v1h-1zM882,431h1v1h-1zM883,431h1v1h-1zM884,430h1v1h-1zM885,430h1v1h-1zM886,429h1v1h-1zM887,429h1v1h-1zM888,429h1v1h-1zM889,428h1v1h-1zM890,428h1v1h-1zM891,428h1v1h-1zM892,427h1v1h-1zM893,427h1v1h-1zM894,427h1v1h-1zM895,426h1v1h-1zM896,426h1v1h-1zM897,426h1v1h-1zM898,425h1v1h-1zM899,425h1v1h-1zM900,425h1v1h-1zM901,425h1v1h-1zM902,425h1v1h-1zM903,425h1v1h-1zM904,425h1v1h-1zM905,425h1v1h-1zM906,424h1v1h-1zM907,424h1v1h-1zM908,424h1v1h-1zM909,424h1v1h-1zM910,424h1v1h-1zM911,424h1v1h-1zM912,424h1v1h-1zM913,425h1v1h-1zM914,425h1v1h-1zM915,425h1v1h-1zM916,425h1v1h-1zM917,425h1v1h-1zM918,425h1v1h-1zM919,425h1v1h-1zM920,426h1v1h-1zM921,426h1v1h-1zM922,426h1v1h-1zM923,427h1v1h-1zM924,427h1v1h-1zM925,427h1v1h-1z"/>
<path shape-rendering="crispEdges" fill="#1e90ff" d="M5,535h1v1h-1zM6,536h1v1h-1zM7,537h1v1h-1zM8,538h1v1h-1zM9,539h1v1h-1zM10,539h1v1h-1zM11,539h1v1h-1zM12,539h1v1h-1zM13,540h1v1h-1zM14,540h1v1h-1zM15,540h1v1h-1zM16,541h1v1h-1zM17,541h1v1h-1zM18,542h1v1h-1zM19,543h1v1h-1zM20,543h1v1h-1zM21,544h1v1h-1zM22,544h1v1h-1zM23,544h1v1h-1zM24,545h1v1h-1zM25,544h1v1h-1zM26,544h1v1h-1zM27,543h1v1h-1zM28,543h1v1h-1zM29,542h1v1h-1zM30,542h1v1h-1zM31,541h1v1h-1zM32,540h1v1h-1zM33,540h1v1h-1zM34,539h1v1h-1zM35,540h1v1h-1zM36,540h1v1h-1zM37,540h1v1h-1zM38,540h1v1h-1zM39,540h1v1h-1zM40,539h1v1h-1zM41,539h1v1h-1zM42,539h1v1h-1zM43,538h1v1h-1zM44,538h1v1h-1zM45,538h1v1h-1zM46,537h1v1h-1zM47,538h1v1h-1zM48,538h1v1h-1zM49,539h1v1h-1zM50,539h1v1h-1zM51,539h1v1h-1zM52,538h1v1h-1zM53,537h1v1h-1zM54,537h1v1h-1zM55,536h1v1h-1zM56,536h1v1h-1zM57,536h1v1h-1zM58,536h1v1h-1zM59,537h1v1h-1zM60,538h1v1h-1zM61,539h1v1h-1zM62,540h1v1h-1zM63,540h1v1h-1zM64,539h1v1h-1zM65,539h1v1h-1zM66,539h1v1h-1zM67,538h1v1h-1zM68,537h1v1h-1zM69,537h1v1h-1zM70,536h1v1h-1zM71,535h1v1h-1zM72,534h1v1h-1zM73,533h1v1h-1zM74,533h1v1h-1zM75,533h1v1h-1zM76,533h1v1h-1zM77,533h1v1h-1zM78,533h1v1h-1zM79,532h1v1h-1zM80,532h1v1h-1zM81,532h1v1h-1zM82,533h1v1h-1zM83,534h1v1h-1zM84,535h1v1h-1zM85,536h1v1h-1zM86,536h1v1h-1zM87,537h1v1h-1zM88,537h1v1h-1zM89,537h1v1h-1zM90,537h1v1h-1zM91,538h1v1h-1zM92,538h1v1h-1zM93,538h1v1h-1zM94,538h1v1h-1zM95,537h1v1h-1zM96,537h1v1h-1zM97,536h1v1h-1zM98,536h1v1h-1zM99,535h1v1h-1zM100,534h1v1h-1zM101,533h1v1h-1zM102,533h1v1h-1zM103,534h1v1h-1zM104,534h1v1h-1zM105,535h1v1h-1zM106,535h1v1h-1zM107,534h1v1h-1zM108,533h1v1h-1zM109,532h1v1h-1zM110,532h1v1h-1zM111,532h1v1h-1zM112,532h1v1h-1zM113,532h1v1h-1zM114,533h1v1h-1zM115,533h1v1h-1zM116,534h1v1h-1zM117,535h1v1h-1zM118,536h1v2h-1zM119,538h1v1h-1zM120,539h1v1h-1zM121,540h1v1h-1zM122,541h1v1h-1zM123,542h1v1h-1zM124,542h1v1h-1zM125,543h1v1h-1zM126,544h1v1h-1zM127,545h1v1h-1zM128,546h1v1h-1zM129,547h1v1h-1zM130,548h1v1h-1zM131,548h1v1h-1zM132,548h1v1h-1zM133,549h1v1h-1zM134,548h1v1h-1zM135,548h1v1h-1zM136,548h1v1h-1zM137,547h1v1h-1zM138,545h1v2h-1zM139,543h1v2h-1zM140,541h1v2h-1zM141,540h1v1h-1zM142,539h1v1h-1zM143,538h1v1h-1zM144,537h1v1h-1zM145,536h1v1h-1zM146,535h1v1h-1zM147,534h1v1h-1zM148,533h1v1h-1zM149,533h1v1h-1zM150,533h1v1h-1zM151,534h1v1h-1zM152,535h1v1h-1zM153,535h1v1h-1zM154,534h1v1h-1zM155,533h1v1h-1zM156,531h1v2h-1zM157,530h1v1h-1zM158,529h1v1h-1zM159,529h1v1h-1zM160,529h1v1h-1zM161,528h1v1h-1zM162,529h1v1h-1zM163,529h1v1h-1zM164,530h1v1h-1zM165,530h1v1h-1zM166,530h1v1h-1zM167,529h1v1h-1zM168,529h1v1h-1zM169,528h1v1h-1zM170,528h1v1h-1zM171,527h1v1h-1zM172,526h1v1h-1zM173,526h1v1h-1zM174,525h1v1h-1zM175,524h1v1h-1zM176,523h1v1h-1zM177,522h1v1h-1zM178,521h1v1h-1zM179,521h1v1h-1zM180,520h1v1h-1zM181,520h1v1h-1zM182,520h1v1h-1zM183,520h1v1h-1zM184,520h1v1h-1zM185,520h1v1h-1zM186,520h1v1h-1zM187,520h1v1h-1zM188,521h1v1h-1zM189,522h1v1h-1zM190,523h1v1h-1zM191,524h1v1h-1zM192,525h1v1h-1zM193,526h1v1h-1zM194,527h1v1h-1zM195,527h1v1h-1zM196,528h1v1h-1zM197,528h1v1h-1zM198,528h1v1h-1zM199,528h1v1h-1zM200,528h1v1h-1zM201,528h1v1h-1zM202,528h1v1h-1zM203,528h1v1h-1zM204,528h1v1h-1zM205,528h1v1h-1zM206,528h1v1h-1zM207,528h1v1h-1zM208,528h1v1h-1zM209,528h1v1h-1zM210,528h1v1h-1zM211,528h1v1h-1zM212,528h1v1h-1zM213,528h1v2h-1zM214,530h1v1h-1zM215,531h1v1h-1zM216,532h1v1h-1zM217,533h1v1h-1zM218,533h1v1h-1zM219,532h1v1h-1zM220,531h1v1h-1zM221,530h1v1h-1zM222,531h1v2h-1zM223,533h1v1h-1zM224,534h1v1h-1zM225,535h1v1h-1zM226,535h1v1h-1zM227,536h1v1h-1zM228,536h1v1h-1zM229,536h1v1h-1zM230,537h1v1h-1zM231,537h1v1h-1zM232,537h1v1h-1zM233,537h1v1h-1zM234,537h1v1h-1zM235,537h1v1h-1zM236,538h1v1h-1zM237,538h1v1h-1zM238,538h1v1h-1zM239,539h1v1h-1zM240,540h1v1h-1zM241,540h1v1h-1zM242,541h1v1h-1zM243,540h1v1h-1zM244,540h1v1h-1zM245,539h1v2h-1zM246,537h1v2h-1zM247,535h1v2h-1zM248,533h1v2h-1zM249,532h1v1h-1zM250,532h1v1h-1zM251,533h1v1h-1zM252,534h1v1h-1zM253,535h1v1h-1zM254,535h1v1h-1zM255,535h1v1h-1zM256,535h1v1h-1zM257,534h1v1h-1zM258,534h1v1h-1zM259,534h1v1h-1zM260,533h1v1h-1zM261,533h1v1h-1zM262,533h1v1h-1zM263,534h1v1h-1zM264,534h1v1h-1zM265,535h1v1h-1zM266,536h1v1h-1zM267,537h1v2h-1zM268,539h1v1h-1zM269,540h1v1h-1zM270,539h1v2h-1zM271,538h1v1h-1zM272,537h1v1h-1zM273,536h1v1h-1zM274,535h1v1h-1zM275,534h1v1h-1zM276,533h1v1h-1zM277,532h1v1h-1zM278,531h1v1h-1zM279,531h1v1h-1zM280,530h1v1h-1zM281,530h1v1h-1zM282,530h1v1h-1zM283,530h1v1h-1zM284,529h1v1h-1zM285,529h1v1h-1zM286,529h1v1h-1zM287,529h1v1h-1zM288,529h1v1h-1zM289,529h1v1h-1zM290,529h1v1h-1zM291,530h1v1h-1zM292,530h1v1h-1zM293,530h1v1h-1zM294,530h1v1h-1zM295,529h1v1h-1zM296,528h1v1h-1zM297,527h1v1h-1zM298,526h1v1h-1zM299,527h1v1h-1zM300,527h1v1h-1zM301,527h1v1h-1zM302,527h1v1h-1zM303,528h1v1h-1zM304,529h1v1h-1zM305,529h1v1h-1zM306,529h1v1h-1zM307,527h1v2h-1zM308,526h1v1h-1zM309,525h1v1h-1zM310,524h1v1h-1zM311,525h1v1h-1zM312,525h1v1h-1zM313,525h1v1h-1zM314,525h1v1h-1zM315,524h1v1h-1zM316,523h1v1h-1zM317,522h1v1h-1zM318,521h1v1h-1zM319,520h1v1h-1zM320,520h1v1h-1zM321,519h1v1h-1zM322,519h1v1h-1zM323,519h1v1h-1zM324,518h1v1h-1zM325,518h1v1h-1zM326,518h1v1h-1zM327,518h1v1h-1zM328,518h1v1h-1zM329,518h1v1h-1zM330,519h1v1h-1zM331,519h1v1h-1zM332,520h1v1h-1zM333,520h1v1h-1zM334,519h1v2h-1zM335,518h1v1h-1zM336,517h1v1h-1zM337,516h1v1h-1zM338,515h1v1h-1zM339,514h1v1h-1zM340,513h1v1h-1zM341,513h1v2h-1zM342,515h1v2h-1zM343,517h1v1h-1zM344,518h1v2h-1zM345,520h1v1h-1zM346,520h1v1h-1zM347,520h1v1h-1zM348,520h1v1h-1zM349,520h1v1h-1zM350,520h1v1h-1zM351,520h1v1h-1zM352,520h1v1h-1zM353,519h1v1h-1zM354,519h1v1h-1zM355,519h1v1h-1zM356,519h1v1h-1zM357,518h1v1h-1zM358,518h1v1h-1zM359,517h1v1h-1zM360,517h1v1h-1zM361,516h1v1h-1zM362,517h1v1h-1zM363,517h1v1h-1zM364,518h1v1h-1zM365,518h1v1h-1zM366,518h1v1h-1zM367,517h1v1h-1zM368,517h1v1h-1zM369,516h1v1h-1zM370,516h1v1h-1zM371,516h1v1h-1zM372,517h1v1h-1zM373,517h1v1h-1zM374,517h1v1h-1zM375,518h1v1h-1zM376,518h1v1h-1zM377,518h1v1h-1zM378,518h1v1h-1zM379,518h1v1h-1zM380,518h1v1h-1zM381,518h1v2h-1zM382,520h1v3h-1zM383,523h1v3h-1zM384,526h1v3h-1zM385,529h1v1h-1zM386,529h1v1h-1zM387,528h1v1h-1zM388,528h1v1h-1zM389,527h1v1h-1zM390,528h1v1h-1zM391,529h1v2h-1zM392,531h1v1h-1zM393,532h1v1h-1zM394,533h1v1h-1zM395,533h1v1h-1zM396,533h1v1h-1zM397,533h1v1h-1zM398,534h1v1h-1zM399,534h1v1h-1zM400,534h1v1h-1zM401,533h1v1h-1zM402,533h1v1h-1zM403,533h1v1h-1zM404,532h1v1h-1zM405,531h1v1h-1zM406,532h1v1h-1zM407,533h1v1h-1zM408,534h1v1h-1zM409,535h1v1h-1zM410,536h1v1h-1zM411,536h1v1h-1zM412,537h1v1h-1zM413,538h1v1h-1zM414,539h1v1h-1zM415,539h1v1h-1zM416,540h1v1h-1zM417,541h1v1h-1zM418,540h1v2h-1zM419,539h1v1h-1zM420,538h1v1h-1zM421,537h1v1h-1zM422,537h1v1h-1zM423,537h1v1h-1zM424,536h1v1h-1zM425,536h1v1h-1zM426,536h1v1h-1zM427,536h1v1h-1zM428,536h1v1h-1zM429,535h1v1h-1zM430,536h1v1h-1zM431,536h1v1h-1zM432,537h1v1h-1zM433,538h1v1h-1zM434,539h1v1h-1zM435,539h1v1h-1zM436,540h1v1h-1zM437,541h1v1h-1zM438,541h1v1h-1zM439,540h1v1h-1zM440,540h1v1h-1zM441,539h1v1h-1zM442,540h1v1h-1zM443,541h1v1h-1zM444,541h1v1h-1zM445,542h1v1h-1zM446,543h1v1h-1zM447,543h1v1h-1zM448,543h1v1h-1zM449,543h1v1h-1zM450,544h1v1h-1zM451,544h1v1h-1zM452,544h1v1h-1zM453,544h1v1h-1zM454,544h1v1h-1zM455,543h1v1h-1zM456,543h1v1h-1zM457,543h1v1h-1zM458,544h1v1h-1zM459,544h1v1h-1zM460,544h1v1h-1zM461,545h1v1h-1zM462,545h1v1h-1zM463,545h1v1h-1zM464,546h1v1h-1zM465,546h1v1h-1zM466,547h1v1h-1zM467,548h1v1h-1zM468,548h1v1h-1zM469,549h1v1h-1zM470,549h1v1h-1zM471,548h1v1h-1zM472,547h1v1h-1zM473,546h1v1h-1zM474,545h1v1h-1zM475,545h1v1h-1zM476,545h1v1h-1zM477,545h1v1h-1zM478,545h1v1h-1zM479,545h1v1h-1zM480,546h1v1h-1zM481,546h1v1h-1zM482,546h1v1h-1zM483,546h1v1h-1zM484,547h1v1h-1zM485,547h1v1h-1zM486,547h1v1h-1zM487,548h1v1h-1zM488,548h1v1h-1zM489,548h1v1h-1zM490,549h1v1h-1zM491,550h1v1h-1zM492,551h1v1h-1zM493,552h1v1h-1zM494,552h1v1h-1zM495,551h1v1h-1zM496,551h1v1h-1zM497,550h1v1h-1zM498,549h1v1h-1zM499,548h1v1h-1zM500,547h1v1h-1zM501,545h1v2h-1zM502,543h1v2h-1zM503,541h1v2h-1zM504,539h1v2h-1zM505,537h1v2h-1zM506,536h1v1h-1zM507,535h1v1h-1zM508,534h1v1h-1zM509,533h1v1h-1zM510,533h1v1h-1zM511,533h1v1h-1zM512,533h1v1h-1zM513,534h1v1h-1zM514,533h1v1h-1zM515,533h1v1h-1zM516,532h1v1h-1zM517,532h1v1h-1zM518,531h1v1h-1zM519,532h1v1h-1zM520,532h1v1h-1zM521,532h1v1h-1zM522,533h1v1h-1zM523,533h1v1h-1zM524,533h1v1h-1zM525,534h1v1h-1zM526,534h1v1h-1zM527,535h1v1h-1zM528,535h1v1h-1zM529,536h1v1h-1zM530,535h1v2h-1zM531,534h1v1h-1zM532,532h1v2h-1zM533,531h1v1h-1zM534,530h1v1h-1zM535,530h1v1h-1zM536,530h1v1h-1zM537,530h1v1h-1zM538,531h1v1h-1zM539,531h1v1h-1zM540,532h1v1h-1zM541,533h1v1h-1zM542,533h1v1h-1zM543,534h1v1h-1zM544,534h1v1h-1zM545,534h1v1h-1zM546,535h1v1h-1zM547,535h1v1h-1zM548,535h1v1h-1zM549,535h1v1h-1zM550,534h1v1h-1zM551,533h1v1h-1zM552,532h1v1h-1zM553,531h1v1h-1zM554,530h1v1h-1zM555,528h1v2h-1zM556,527h1v1h-1zM557,526h1v1h-1zM558,525h1v1h-1zM559,525h1v1h-1zM560,524h1v1h-1zM561,524h1v1h-1zM562,524h1v1h-1zM563,524h1v1h-1zM564,524h1v1h-1zM565,524h1v1h-1zM566,524h1v1h-1zM567,524h1v1h-1zM568,524h1v1h-1zM569,524h1v1h-1zM570,524h1v1h-1zM571,524h1v1h-1zM572,524h1v1h-1zM573,524h1v1h-1zM574,524h1v1h-1zM575,524h1v1h-1zM576,524h1v1h-1zM577,524h1v1h-1zM578,524h1v1h-1zM579,523h1v1h-1zM580,523h1v1h-1zM581,522h1v1h-1zM582,522h1v1h-1zM583,523h1v1h-1zM584,523h1v1h-1zM585,523h1v1h-1zM586,523h1v1h-1zM587,523h1v1h-1zM588,522h1v1h-1zM589,521h1v1h-1zM590,521h1v1h-1zM591,521h1v1h-1zM592,521h1v1h-1zM593,521h1v2h-1zM594,523h1v3h-1zM595,526h1v2h-1zM596,528h1v3h-1zM597,531h1v1h-1zM598,530h1v2h-1zM599,529h1v1h-1zM600,528h1v1h-1zM601,527h1v1h-1zM602,527h1v1h-1zM603,527h1v1h-1zM604,528h1v1h-1zM605,528h1v1h-1zM606,529h1v2h-1zM607,531h1v1h-1zM608,532h1v1h-1zM609,533h1v1h-1zM610,534h1v1h-1zM611,534h1v1h-1zM612,533h1v1h-1zM613,532h1v1h-1zM614,532h1v1h-1zM615,532h1v1h-1zM616,532h1v1h-1zM617,532h1v1h-1zM618,532h1v1h-1zM619,532h1v1h-1zM620,532h1v1h-1zM621,532h1v1h-1zM622,532h1v1h-1zM623,531h1v1h-1zM624,531h1v1h-1zM625,530h1v1h-1zM626,529h1v1h-1zM627,527h1v2h-1zM628,525h1v2h-1zM629,523h1v2h-1zM630,522h1v1h-1zM631,522h1v1h-1zM632,522h1v1h-1zM633,522h1v1h-1zM634,523h1v3h-1zM635,526h1v2h-1zM636,528h1v2h-1zM637,530h1v1h-1zM638,530h1v1h-1zM639,530h1v1h-1zM640,529h1v1h-1zM641,529h1v1h-1zM642,529h1v1h-1zM643,530h1v1h-1zM644,530h1v1h-1zM645,530h1v1h-1zM646,530h1v1h-1zM647,531h1v1h-1zM648,532h1v1h-1zM649,532h1v1h-1zM650,532h1v1h-1zM651,531h1v1h-1zM652,531h1v1h-1zM653,530h1v1h-1zM654,529h1v1h-1zM655,530h1v1h-1zM656,530h1v1h-1zM657,530h1v1h-1zM658,530h1v1h-1zM659,531h1v1h-1zM660,532h1v1h-1zM661,533h1v1h-1zM662,534h1v1h-1zM663,534h1v1h-1zM664,533h1v1h-1zM665,533h1v1h-1zM666,533h1v1h-1zM667,534h1v1h-1zM668,534h1v1h-1zM669,535h1v1h-1zM670,536h1v1h-1zM671,535h1v1h-1zM672,535h1v1h-1zM673,535h1v1h-1zM674,534h1v2h-1zM675,536h1v1h-1zM676,537h1v1h-1zM677,538h1v1h-1zM678,539h1v1h-1zM679,540h1v2h-1zM680,542h1v1h-1zM681,543h1v1h-1zM682,544h1v1h-1zM683,545h1v1h-1zM684,545h1v1h-1zM685,546h1v1h-1zM686,546h1v1h-1zM687,546h1v1h-1zM688,546h1v1h-1zM689,545h1v1h-1zM690,543h1v2h-1zM691,541h1v2h-1zM692,538h1v3h-1zM693,537h1v1h-1zM694,535h1v2h-1zM695,534h1v1h-1zM696,533h1v1h-1zM697,532h1v1h-1zM698,531h1v1h-1zM699,532h1v1h-1zM700,532h1v1h-1zM701,532h1v1h-1zM702,532h1v1h-1zM703,531h1v1h-1zM704,531h1v1h-1zM705,530h1v1h-1zM706,531h1v1h-1zM707,532h1v1h-1zM708,533h1v2h-1zM709,535h1v1h-1zM710,535h1v1h-1zM711,535h1v1h-1zM712,535h1v1h-1zM713,534h1v1h-1zM714,534h1v1h-1zM715,533h1v1h-1zM716,532h1v1h-1zM717,531h1v1h-1zM718,530h1v1h-1zM719,530h1v1h-1zM720,530h1v1h-1zM721,529h1v1h-1zM722,529h1v1h-1zM723,528h1v1h-1zM724,528h1v1h-1zM725,527h1v1h-1zM726,527h1v1h-1zM727,527h1v1h-1zM728,528h1v1h-1zM729,528h1v1h-1zM730,529h1v1h-1zM731,529h1v1h-1zM732,530h1v1h-1zM733,531h1v1h-1zM734,531h1v1h-1zM735,531h1v1h-1zM736,530h1v1h-1zM737,530h1v1h-1zM738,529h1v1h-1zM739,530h1v1h-1zM740,530h1v1h-1zM741,530h1v1h-1zM742,530h1v1h-1zM743,530h1v1h-1zM744,530h1v1h-1zM745,529h1v1h-1zM746,529h1v1h-1zM747,528h1v1h-1zM748,527h1v1h-1zM749,526h1v1h-1zM750,526h1v1h-1zM751,526h1v1h-1zM752,526h1v1h-1zM753,526h1v1h-1zM754,526h1v1h-1zM755,526h1v1h-1zM756,526h1v1h-1zM757,526h1v1h-1zM758,526h1v1h-1zM759,527h1v1h-1zM760,527h1v1h-1zM761,527h1v1h-1zM762,527h1v1h-1zM763,527h1v1h-1zM764,527h1v1h-1zM765,526h1v1h-1zM766,526h1v1h-1zM767,525h1v1h-1zM768,524h1v1h-1zM769,523h1v1h-1zM770,522h1v1h-1zM771,522h1v1h-1zM772,522h1v1h-1zM773,522h1v2h-1zM774,524h1v2h-1zM775,526h1v2h-1zM776,528h1v2h-1zM777,530h1v1h-1zM778,529h1v1h-1zM779,527h1v2h-1zM780,526h1v1h-1zM781,525h1v1h-1zM782,525h1v1h-1zM783,526h1v1h-1zM784,527h1v1h-1zM785,528h1v1h-1zM786,527h1v1h-1zM787,526h1v1h-1zM788,525h1v1h-1zM789,524h1v1h-1zM790,523h1v1h-1zM791,523h1v1h-1zM792,523h1v1h-1zM793,523h1v1h-1zM794,523h1v1h-1zM795,522h1v1h-1zM796,522h1v1h-1zM797,521h1v1h-1zM798,521h1v1h-1zM799,520h1v1h-1zM800,519h1v1h-1zM801,519h1v1h-1zM802,518h1v1h-1zM803,517h1v1h-1zM804,517h1v1h-1zM805,516h1v1h-1zM806,516h1v1h-1zM807,516h1v1h-1zM808,516h1v1h-1zM809,516h1v1h-1zM810,517h1v1h-1zM811,518h1v2h-1zM812,520h1v2h-1zM813,522h1v1h-1zM814,523h1v1h-1zM815,524h1v2h-1zM816,526h1v1h-1zM817,527h1v1h-1zM818,527h1v1h-1zM819,526h1v1h-1zM820,525h1v1h-1zM821,525h1v1h-1zM822,524h1v1h-1zM823,523h1v1h-1zM824,522h1v1h-1zM825,522h1v1h-1zM826,522h1v2h-1zM827,524h1v1h-1zM828,525h1v2h-1zM829,527h1v1h-1zM830,527h1v1h-1zM831,527h1v1h-1zM832,527h1v1h-1zM833,527h1v1h-1zM834,528h1v2h-1zM835,530h1v1h-1zM836,531h1v2h-1zM837,533h1v1h-1zM838,533h1v1h-1zM839,534h1v1h-1zM840,534h1v1h-1zM841,534h1v1h-1zM842,532h1v2h-1zM843,531h1v1h-1zM844,529h1v2h-1zM845,528h1v1h-1zM846,527h1v1h-1zM847,525h1v2h-1zM848,524h1v1h-1zM849,523h1v1h-1zM850,523h1v1h-1zM851,522h1v1h-1zM852,522h1v1h-1zM853,521h1v1h-1zM854,521h1v1h-1zM855,521h1v1h-1zM856,521h1v1h-1zM857,521h1v1h-1zM858,521h1v1h-1zM859,521h1v1h-1zM860,522h1v1h-1zM861,522h1v1h-1zM862,522h1v1h-1zM863,521h1v1h-1zM864,521h1v1h-1zM865,520h1v1h-1zM866,519h1v1h-1zM867,519h1v1h-1zM868,518h1v1h-1zM869,518h1v1h-1zM870,517h1v1h-1zM871,517h1v1h-1zM872,517h1v1h-1zM873,517h1v1h-1zM874,517h1v1h-1zM875,517h1v1h-1zM876,516h1v1h-1zM877,516h1v1h-1zM878,516h1v1h-1zM879,516h1v1h-1zM880,517h1v1h-1zM881,517h1v1h-1zM882,517h1v1h-1zM883,518h1v1h-1zM884,518h1v1h-1zM885,519h1v1h-1zM886,519h1v1h-1zM887,519h1v1h-1zM888,519h1v1h-1zM889,518h1v1h-1zM890,518h1v1h-1zM891,519h1v1h-1zM892,519h1v1h-1zM893,519h1v1h-1zM894,519h1v1h-1zM895,520h1v1h-1zM896,520h1v1h-1zM897,520h1v1h-1zM898,520h1v1h-1zM899,520h1v1h-1zM900,520h1v1h-1zM901,520h1v1h-1zM902,520h1v1h-1zM903,520h1v1h-1zM904,521h1v1h-1zM905,521h1v1h-1zM906,521h1v1h-1zM907,520h1v1h-1zM908,519h1v1h-1zM909,518h1v1h-1zM910,517h1v1h-1zM911,516h1v1h-1zM912,516h1v1h-1zM913,516h1v1h-1zM914,517h1v2h-1zM915,519h1v2h-1zM916,521h1v2h-1zM917,523h1v1h-1zM918,524h1v1h-1zM919,525h1v1h-1zM920,525h1v1h-1zM921,526h1v1h-1zM922,526h1v1h-1zM923,526h1v1h-1zM924,526h1v1h-1zM925,526h1v1h-1z"/>
<g shape-rendering="crispEdges">
<rect x="229" y="100" width="938" height="2" fill="#ff0000"/>
<rect x="5" y="101" width="1" height="1" fill="#ff0000"/>
<rect x="5" y="179" width="1162" height="2" fill="#7cfc00"/>
<rect x="5" y="257" width="1162" height="2" fill="#0000ff"/>
<rect x="5" y="335" width="1162" height="2" fill="#0000c8"/>
<rect x="5" y="410" width="1162" height="2" fill="#0000ff"/>
<line x1="6" y1="515.5" x2="1167" y2="515.5" stroke="#c0c0c0" stroke-width="1" stroke-dasharray="3,3"/>
<line x1="6" y1="544.5" x2="1167" y2="544.5" stroke="#c0c0c0" stroke-width="1" stroke-dasharray="3,3"/>
<rect x="4" y="177" width="6" height="6" fill="#7cfc00"/>
<rect x="6" y="179" width="2" height="2" fill="#fff"/>
<rect x="1161" y="177" width="6" height="6" fill="#7cfc00"/>
<rect x="1163" y="179" width="2" height="2" fill="#fff"/>
<rect x="4" y="255" width="6" height="6" fill="#0000ff"/>
<rect x="6" y="257" width="2" height="2" fill="#fff"/>
<rect x="1161" y="255" width="6" height="6" fill="#0000ff"/>
<rect x="1163" y="257" width="2" height="2" fill="#fff"/>
<rect x="5" y="135" width="1" height="30" fill="#ff0000"/>
<rect x="4" y="137" width="3" height="24" fill="#ff0000"/>
<rect x="5" y="138" width="1" height="22" fill="#ff4500"/>
<rect x="9" y="136" width="1" height="39" fill="#28c828"/>
<rect x="8" y="137" width="3" height="32" fill="#28c828"/>
<rect x="9" y="138" width="1" height="30" fill="#32cd32"/>
<rect x="13" y="158" width="1" height="23" fill="#28c828"/>
<rect x="12" y="168" width="3" height="12" fill="#28c828"/>
<rect x="13" y="169" width="1" height="10" fill="#32cd32"/>
<rect x="17" y="183" width="1" height="6" fill="#28c828"/>
<rect x="16" y="184" width="3" height="3" fill="#28c828"/>
<rect x="17" y="185" width="1" height="1" fill="#32cd32"/>
<rect x="21" y="185" width="1" height="37" fill="#28c828"/>
<rect x="20" y="186" width="3" height="28" fill="#28c828"/>
<rect x="21" y="187" width="1" height="26" fill="#32cd32"/>
<rect x="25" y="203" width="1" height="31" fill="#ff0000"/>
<rect x="24" y="212" width="3" height="2" fill="#ff0000"/>
<rect x="29" y="200" width="1" height="39" fill="#ff0000"/>
<rect x="28" y="206" width="3" height="7" fill="#ff0000"/>
<rect x="29" y="207" width="1" height="5" fill="#ff4500"/>
<rect x="33" y="181" width="1" height="30" fill="#ff0000"/>
<rect x="32" y="190" width="3" height="17" fill="#ff0000"/>
<rect x="33" y="191" width="1" height="15" fill="#ff4500"/>
<rect x="37" y="186" width="1" height="18" fill="#28c828"/>
<rect x="36" y="190" width="3" height="10" fill="#28c828"/>
<rect x="37" y="191" width="1" height="8" fill="#32cd32"/>
<rect x="41" y="196" width="1" height="3" fill="#ff0000"/>
<rect x="40" y="197" width="3" height="1" fill="#ff0000"/>
<rect x="45" y="185" width="1" height="32" fill="#ff0000"/>
<rect x="44" y="190" width="3" height="7" fill="#ff0000"/>
<rect x="45" y="191" width="1" height="5" fill="#ff4500"/>
<rect x="49" y="186" width="1" height="28" fill="#28c828"/>
<rect x="48" y="190" width="3" height="8" fill="#28c828"/>
<rect x="49" y="191" width="1" height="6" fill="#32cd32"/>
<rect x="53" y="190" width="1" height="34" fill="#ff0000"/>
<rect x="52" y="192" width="3" height="5" fill="#ff0000"/>
<rect x="53" y="193" width="1" height="3" fill="#ff4500"/>
<rect x="57" y="173" width="1" height="29" fill="#ff0000"/>
<rect x="56" y="182" width="3" height="10" fill="#ff0000"/>
<rect x="57" y="183" width="1" height="8" fill="#ff4500"/>
<rect x="61" y="178" width="1" height="39" fill="#28c828"/>
<rect x="60" y="181" width="3" height="34" fill="#28c828"/>
<rect x="61" y="182" width="1" height="32" fill="#32cd32"/>
<rect x="65" y="209" width="1" height="3" fill="#28c828"/>
<rect x="64" y="209" width="3" height="3" fill="#28c828"/>
<rect x="65" y="210" width="1" height="1" fill="#32cd32"/>
<rect x="69" y="190" width="1" height="27" fill="#ff0000"/>
<rect x="68" y="201" width="3" height="11" fill="#ff0000"/>
<rect x="69" y="202" width="1" height="9" fill="#ff4500"/>
<rect x="73" y="176" width="1" height="27" fill="#ff0000"/>
<rect x="72" y="182" width="3" height="20" fill="#ff0000"/>
<rect x="73" y="183" width="1" height="18" fill="#ff4500"/>
<rect x="77" y="166" width="1" height="29" fill="#28c828"/>
<rect x="76" y="182" width="3" height="9" fill="#28c828"/>
<rect x="77" y="183" width="1" height="7" fill="#32cd32"/>
<rect x="81" y="172" width="1" height="20" fill="#ff0000"/>
<rect x="80" y="179" width="3" height="11" fill="#ff0000"/>
<rect x="81" y="180" width="1" height="9" fill="#ff4500"/>
<rect x="85" y="178" width="1" height="31" fill="#28c828"/>
<rect x="84" y="179" width="3" height="28" fill="#28c828"/>
<rect x="85" y="180" width="1" height="26" fill="#32cd32"/>
<rect x="89" y="212" width="1" height="5" fill="#28c828"/>
<rect x="88" y="212" width="3" height="3" fill="#28c828"/>
<rect x="89" y="213" width="1" height="1" fill="#32cd32"/>
<rect x="93" y="198" width="1" height="21" fill="#28c828"/>
<rect x="92" y="214" width="3" height="3" fill="#28c828"/>
<rect x="93" y="215" width="1" height="1" fill="#32cd32"/>
<rect x="97" y="203" width="1" height="22" fill="#ff0000"/>
<rect x="96" y="210" width="3" height="8" fill="#ff0000"/>
<rect x="97" y="211" width="1" height="6" fill="#ff4500"/>
<rect x="101" y="186" width="1" height="35" fill="#ff0000"/>
<rect x="100" y="196" width="3" height="13" fill="#ff0000"/>
<rect x="101" y="197" width="1" height="11" fill="#ff4500"/>
<rect x="105" y="194" width="1" height="23" fill="#28c828"/>
<rect x="104" y="195" width="3" height="17" fill="#28c828"/>
<rect x="105" y="196" width="1" height="15" fill="#32cd32"/>
<rect x="109" y="190" width="1" height="26" fill="#ff0000"/>
<rect x="108" y="195" width="3" height="17" fill="#ff0000"/>
<rect x="109" y="196" width="1" height="15" fill="#ff4500"/>
<rect x="113" y="195" width="1" height="4" fill="#28c828"/>
<rect x="112" y="196" width="3" height="3" fill="#28c828"/>
<rect x="113" y="197" width="1" height="1" fill="#32cd32"/>
<rect x="117" y="197" width="1" height="25" fill="#28c828"/>
<rect x="116" y="197" width="3" height="15" fill="#28c828"/>
<rect x="117" y="198" width="1" height="13" fill="#32cd32"/>
<rect x="121" y="212" width="1" height="52" fill="#28c828"/>
<rect x="120" y="212" width="3" height="45" fill="#28c828"/>
<rect x="121" y="213" width="1" height="43" fill="#32cd32"/>
<rect x="125" y="248" width="1" height="23" fill="#28c828"/>
<rect x="124" y="256" width="3" height="14" fill="#28c828"/>
<rect x="125" y="257" width="1" height="12" fill="#32cd32"/>
<rect x="129" y="266" width="1" height="50" fill="#28c828"/>
<rect x="128" y="267" width="3" height="47" fill="#28c828"/>
<rect x="129" y="268" width="1" height="45" fill="#32cd32"/>
<rect x="133" y="307" width="1" height="28" fill="#28c828"/>
<rect x="132" y="313" width="3" height="6" fill="#28c828"/>
<rect x="133" y="314" width="1" height="4" fill="#32cd32"/>
<rect x="137" y="316" width="1" height="3" fill="#ff0000"/>
<rect x="136" y="317" width="3" height="1" fill="#ff0000"/>
<rect x="141" y="275" width="1" height="43" fill="#ff0000"/>
<rect x="140" y="280" width="3" height="38" fill="#ff0000"/>
<rect x="141" y="281" width="1" height="36" fill="#ff4500"/>
<rect x="145" y="248" width="1" height="37" fill="#ff0000"/>
<rect x="144" y="258" width="3" height="23" fill="#ff0000"/>
<rect x="145" y="259" width="1" height="21" fill="#ff4500"/>
<rect x="149" y="243" width="1" height="22" fill="#ff0000"/>
<rect x="148" y="245" width="3" height="15" fill="#ff0000"/>
<rect x="149" y="246" width="1" height="13" fill="#ff4500"/>
<rect x="153" y="243" width="1" height="25" fill="#28c828"/>
<rect x="152" y="245" width="3" height="20" fill="#28c828"/>
<rect x="153" y="246" width="1" height="18" fill="#32cd32"/>
<rect x="157" y="224" width="1" height="50" fill="#ff0000"/>
<rect x="156" y="226" width="3" height="39" fill="#ff0000"/>
<rect x="157" y="227" width="1" height="37" fill="#ff4500"/>
<rect x="161" y="224" width="1" height="4" fill="#ff0000"/>
<rect x="160" y="224" width="3" height="3" fill="#ff0000"/>
<rect x="161" y="225" width="1" height="1" fill="#ff4500"/>
<rect x="165" y="223" width="1" height="18" fill="#28c828"/>
<rect x="164" y="225" width="3" height="14" fill="#28c828"/>
<rect x="165" y="226" width="1" height="12" fill="#32cd32"/>
<rect x="169" y="211" width="1" height="29" fill="#ff0000"/>
<rect x="168" y="223" width="3" height="16" fill="#ff0000"/>
<rect x="169" y="224" width="1" height="14" fill="#ff4500"/>
<rect x="173" y="189" width="1" height="40" fill="#ff0000"/>
<rect x="172" y="198" width="3" height="26" fill="#ff0000"/>
<rect x="173" y="199" width="1" height="24" fill="#ff4500"/>
<rect x="177" y="175" width="1" height="28" fill="#ff0000"/>
<rect x="176" y="180" width="3" height="18" fill="#ff0000"/>
<rect x="177" y="181" width="1" height="16" fill="#ff4500"/>
<rect x="181" y="140" width="1" height="44" fill="#ff0000"/>
<rect x="180" y="150" width="3" height="32" fill="#ff0000"/>
<rect x="181" y="151" width="1" height="30" fill="#ff4500"/>
<rect x="185" y="153" width="1" height="6" fill="#28c828"/>
<rect x="184" y="153" width="3" height="5" fill="#28c828"/>
<rect x="185" y="154" width="1" height="3" fill="#32cd32"/>
<rect x="189" y="157" width="1" height="9" fill="#28c828"/>
<rect x="188" y="157" width="3" height="4" fill="#28c828"/>
<rect x="189" y="158" width="1" height="2" fill="#32cd32"/>
<rect x="193" y="145" width="1" height="49" fill="#28c828"/>
<rect x="192" y="161" width="3" height="27" fill="#28c828"/>
<rect x="193" y="162" width="1" height="25" fill="#32cd32"/>
<rect x="197" y="178" width="1" height="30" fill="#28c828"/>
<rect x="196" y="187" width="3" height="15" fill="#28c828"/>
<rect x="197" y="188" width="1" height="13" fill="#32cd32"/>
<rect x="201" y="183" width="1" height="25" fill="#ff0000"/>
<rect x="200" y="197" width="3" height="5" fill="#ff0000"/>
<rect x="201" y="198" width="1" height="3" fill="#ff4500"/>
<rect x="205" y="175" width="1" height="26" fill="#28c828"/>
<rect x="204" y="197" width="3" height="3" fill="#28c828"/>
<rect x="205" y="198" width="1" height="1" fill="#32cd32"/>
<rect x="209" y="194" width="1" height="7" fill="#28c828"/>
<rect x="208" y="197" width="3" height="1" fill="#28c828"/>
<rect x="213" y="193" width="1" height="21" fill="#28c828"/>
<rect x="212" y="197" width="3" height="2" fill="#28c828"/>
<rect x="217" y="194" width="1" height="32" fill="#28c828"/>
<rect x="216" y="198" width="3" height="27" fill="#28c828"/>
<rect x="217" y="199" width="1" height="25" fill="#32cd32"/>
<rect x="221" y="210" width="1" height="23" fill="#ff0000"/>
<rect x="220" y="211" width="3" height="12" fill="#ff0000"/>
<rect x="221" y="212" width="1" height="10" fill="#ff4500"/>
<rect x="225" y="208" width="1" height="39" fill="#28c828"/>
<rect x="224" y="211" width="3" height="26" fill="#28c828"/>
<rect x="225" y="212" width="1" height="24" fill="#32cd32"/>
<rect x="229" y="221" width="1" height="30" fill="#28c828"/>
<rect x="228" y="237" width="3" height="11" fill="#28c828"/>
<rect x="229" y="238" width="1" height="9" fill="#32cd32"/>
<rect x="233" y="251" width="1" height="3" fill="#28c828"/>
<rect x="232" y="251" width="3" height="1" fill="#28c828"/>
<rect x="237" y="249" width="1" height="26" fill="#28c828"/>
<rect x="236" y="252" width="3" height="3" fill="#28c828"/>
<rect x="237" y="253" width="1" height="1" fill="#32cd32"/>
<rect x="241" y="241" width="1" height="33" fill="#28c828"/>
<rect x="240" y="254" width="3" height="16" fill="#28c828"/>
<rect x="241" y="255" width="1" height="14" fill="#32cd32"/>
<rect x="245" y="234" width="1" height="39" fill="#ff0000"/>
<rect x="244" y="268" width="3" height="3" fill="#ff0000"/>
<rect x="245" y="269" width="1" height="1" fill="#ff4500"/>
<rect x="249" y="224" width="1" height="50" fill="#ff0000"/>
<rect x="248" y="234" width="3" height="35" fill="#ff0000"/>
<rect x="249" y="235" width="1" height="33" fill="#ff4500"/>
<rect x="253" y="224" width="1" height="42" fill="#28c828"/>
<rect x="252" y="233" width="3" height="22" fill="#28c828"/>
<rect x="253" y="234" width="1" height="20" fill="#32cd32"/>
<rect x="257" y="249" width="1" height="5" fill="#ff0000"/>
<rect x="256" y="251" width="3" height="2" fill="#ff0000"/>
<rect x="261" y="236" width="1" height="23" fill="#ff0000"/>
<rect x="260" y="243" width="3" height="8" fill="#ff0000"/>
<rect x="261" y="244" width="1" height="6" fill="#ff4500"/>
<rect x="265" y="227" width="1" height="45" fill="#28c828"/>
<rect x="264" y="243" width="3" height="20" fill="#28c828"/>
<rect x="265" y="244" width="1" height="18" fill="#32cd32"/>
<rect x="269" y="252" width="1" height="49" fill="#28c828"/>
<rect x="268" y="261" width="3" height="35" fill="#28c828"/>
<rect x="269" y="262" width="1" height="33" fill="#32cd32"/>
<rect x="273" y="255" width="1" height="43" fill="#ff0000"/>
<rect x="272" y="270" width="3" height="27" fill="#ff0000"/>
<rect x="273" y="271" width="1" height="25" fill="#ff4500"/>
<rect x="277" y="245" width="1" height="45" fill="#ff0000"/>
<rect x="276" y="250" width="3" height="20" fill="#ff0000"/>
<rect x="277" y="251" width="1" height="18" fill="#ff4500"/>
<rect x="281" y="242" width="1" height="5" fill="#28c828"/>
<rect x="280" y="243" width="3" height="4" fill="#28c828"/>
<rect x="281" y="244" width="1" height="2" fill="#32cd32"/>
<rect x="285" y="230" width="1" height="29" fill="#ff0000"/>
<rect x="284" y="238" width="3" height="9" fill="#ff0000"/>
<rect x="285" y="239" width="1" height="7" fill="#ff4500"/>
<rect x="289" y="232" width="1" height="28" fill="#28c828"/>
<rect x="288" y="238" width="3" height="2" fill="#28c828"/>
<rect x="293" y="237" width="1" height="35" fill="#28c828"/>
<rect x="292" y="239" width="3" height="4" fill="#28c828"/>
<rect x="293" y="240" width="1" height="2" fill="#32cd32"/>
<rect x="297" y="220" width="1" height="29" fill="#ff0000"/>
<rect x="296" y="224" width="3" height="19" fill="#ff0000"/>
<rect x="297" y="225" width="1" height="17" fill="#ff4500"/>
<rect x="301" y="213" width="1" height="27" fill="#28c828"/>
<rect x="300" y="224" width="3" height="2" fill="#28c828"/>
<rect x="305" y="230" width="1" height="8" fill="#28c828"/>
<rect x="304" y="231" width="3" height="5" fill="#28c828"/>
<rect x="305" y="232" width="1" height="3" fill="#32cd32"/>
<rect x="309" y="194" width="1" height="43" fill="#ff0000"/>
<rect x="308" y="207" width="3" height="29" fill="#ff0000"/>
<rect x="309" y="208" width="1" height="27" fill="#ff4500"/>
<rect x="313" y="188" width="1" height="29" fill="#28c828"/>
<rect x="312" y="207" width="3" height="9" fill="#28c828"/>
<rect x="313" y="208" width="1" height="7" fill="#32cd32"/>
<rect x="317" y="189" width="1" height="32" fill="#ff0000"/>
<rect x="316" y="189" width="3" height="26" fill="#ff0000"/>
<rect x="317" y="190" width="1" height="24" fill="#ff4500"/>
<rect x="321" y="166" width="1" height="30" fill="#ff0000"/>
<rect x="320" y="173" width="3" height="17" fill="#ff0000"/>
<rect x="321" y="174" width="1" height="15" fill="#ff4500"/>
<rect x="325" y="159" width="1" height="20" fill="#ff0000"/>
<rect x="324" y="170" width="3" height="4" fill="#ff0000"/>
<rect x="325" y="171" width="1" height="2" fill="#ff4500"/>
<rect x="329" y="165" width="1" height="5" fill="#ff0000"/>
<rect x="328" y="166" width="3" height="3" fill="#ff0000"/>
<rect x="329" y="167" width="1" height="1" fill="#ff4500"/>
<rect x="333" y="167" width="1" height="25" fill="#28c828"/>
<rect x="332" y="167" width="3" height="6" fill="#28c828"/>
<rect x="333" y="168" width="1" height="4" fill="#32cd32"/>
<rect x="337" y="135" width="1" height="38" fill="#ff0000"/>
<rect x="336" y="141" width="3" height="32" fill="#ff0000"/>
<rect x="337" y="142" width="1" height="30" fill="#ff4500"/>
<rect x="341" y="116" width="1" height="31" fill="#ff0000"/>
<rect x="340" y="120" width="3" height="22" fill="#ff0000"/>
<rect x="341" y="121" width="1" height="20" fill="#ff4500"/>
<rect x="345" y="104" width="1" height="47" fill="#28c828"/>
<rect x="344" y="120" width="3" height="28" fill="#28c828"/>
<rect x="345" y="121" width="1" height="26" fill="#32cd32"/>
<rect x="349" y="122" width="1" height="31" fill="#ff0000"/>
<rect x="348" y="146" width="3" height="2" fill="#ff0000"/>
<rect x="353" y="143" width="1" height="5" fill="#28c828"/>
<rect x="352" y="144" width="3" height="1" fill="#28c828"/>
<rect x="357" y="125" width="1" height="22" fill="#ff0000"/>
<rect x="356" y="133" width="3" height="12" fill="#ff0000"/>
<rect x="357" y="134" width="1" height="10" fill="#ff4500"/>
<rect x="361" y="115" width="1" height="20" fill="#ff0000"/>
<rect x="360" y="121" width="3" height="12" fill="#ff0000"/>
<rect x="361" y="122" width="1" height="10" fill="#ff4500"/>
<rect x="365" y="109" width="1" height="27" fill="#28c828"/>
<rect x="364" y="121" width="3" height="8" fill="#28c828"/>
<rect x="365" y="122" width="1" height="6" fill="#32cd32"/>
<rect x="369" y="99" width="1" height="41" fill="#ff0000"/>
<rect x="368" y="112" width="3" height="17" fill="#ff0000"/>
<rect x="369" y="113" width="1" height="15" fill="#ff4500"/>
<rect x="373" y="99" width="1" height="30" fill="#28c828"/>
<rect x="372" y="111" width="3" height="4" fill="#28c828"/>
<rect x="373" y="112" width="1" height="2" fill="#32cd32"/>
<rect x="377" y="118" width="1" height="5" fill="#ff0000"/>
<rect x="376" y="120" width="3" height="2" fill="#ff0000"/>
<rect x="381" y="109" width="1" height="26" fill="#ff0000"/>
<rect x="380" y="117" width="3" height="2" fill="#ff0000"/>
<rect x="385" y="111" width="1" height="60" fill="#28c828"/>
<rect x="384" y="117" width="3" height="46" fill="#28c828"/>
<rect x="385" y="118" width="1" height="44" fill="#32cd32"/>
<rect x="389" y="144" width="1" height="31" fill="#ff0000"/>
<rect x="388" y="144" width="3" height="19" fill="#ff0000"/>
<rect x="389" y="145" width="1" height="17" fill="#ff4500"/>
<rect x="393" y="143" width="1" height="47" fill="#28c828"/>
<rect x="392" y="144" width="3" height="33" fill="#28c828"/>
<rect x="393" y="145" width="1" height="31" fill="#32cd32"/>
<rect x="397" y="174" width="1" height="28" fill="#28c828"/>
<rect x="396" y="176" width="3" height="8" fill="#28c828"/>
<rect x="397" y="177" width="1" height="6" fill="#32cd32"/>
<rect x="401" y="180" width="1" height="4" fill="#28c828"/>
<rect x="400" y="182" width="3" height="2" fill="#28c828"/>
<rect x="405" y="164" width="1" height="26" fill="#ff0000"/>
<rect x="404" y="173" width="3" height="11" fill="#ff0000"/>
<rect x="405" y="174" width="1" height="9" fill="#ff4500"/>
<rect x="409" y="164" width="1" height="38" fill="#28c828"/>
<rect x="408" y="173" width="3" height="21" fill="#28c828"/>
<rect x="409" y="174" width="1" height="19" fill="#32cd32"/>
<rect x="413" y="184" width="1" height="37" fill="#28c828"/>
<rect x="412" y="193" width="3" height="23" fill="#28c828"/>
<rect x="413" y="194" width="1" height="21" fill="#32cd32"/>
<rect x="417" y="211" width="1" height="30" fill="#28c828"/>
<rect x="416" y="215" width="3" height="23" fill="#28c828"/>
<rect x="417" y="216" width="1" height="21" fill="#32cd32"/>
<rect x="421" y="215" width="1" height="31" fill="#ff0000"/>
<rect x="420" y="217" width="3" height="21" fill="#ff0000"/>
<rect x="421" y="218" width="1" height="19" fill="#ff4500"/>
<rect x="425" y="215" width="1" height="3" fill="#ff0000"/>
<rect x="424" y="215" width="3" height="2" fill="#ff0000"/>
<rect x="429" y="196" width="1" height="25" fill="#ff0000"/>
<rect x="428" y="209" width="3" height="8" fill="#ff0000"/>
<rect x="429" y="210" width="1" height="6" fill="#ff4500"/>
<rect x="433" y="197" width="1" height="41" fill="#28c828"/>
<rect x="432" y="209" width="3" height="24" fill="#28c828"/>
<rect x="433" y="210" width="1" height="22" fill="#32cd32"/>
<rect x="437" y="230" width="1" height="25" fill="#28c828"/>
<rect x="436" y="232" width="3" height="18" fill="#28c828"/>
<rect x="437" y="233" width="1" height="16" fill="#32cd32"/>
<rect x="441" y="236" width="1" height="24" fill="#ff0000"/>
<rect x="440" y="245" width="3" height="5" fill="#ff0000"/>
<rect x="441" y="246" width="1" height="3" fill="#ff4500"/>
<rect x="445" y="237" width="1" height="35" fill="#28c828"/>
<rect x="444" y="245" width="3" height="22" fill="#28c828"/>
<rect x="445" y="246" width="1" height="20" fill="#32cd32"/>
<rect x="449" y="267" width="1" height="4" fill="#ff0000"/>
<rect x="448" y="268" width="3" height="2" fill="#ff0000"/>
<rect x="453" y="246" width="1" height="29" fill="#28c828"/>
<rect x="452" y="268" width="3" height="4" fill="#28c828"/>
<rect x="453" y="269" width="1" height="2" fill="#32cd32"/>
<rect x="457" y="266" width="1" height="16" fill="#28c828"/>
<rect x="456" y="270" width="3" height="3" fill="#28c828"/>
<rect x="457" y="271" width="1" height="1" fill="#32cd32"/>
<rect x="461" y="270" width="1" height="24" fill="#28c828"/>
<rect x="460" y="273" width="3" height="12" fill="#28c828"/>
<rect x="461" y="274" width="1" height="10" fill="#32cd32"/>
<rect x="465" y="280" width="1" height="20" fill="#28c828"/>
<rect x="464" y="284" width="3" height="16" fill="#28c828"/>
<rect x="465" y="285" width="1" height="14" fill="#32cd32"/>
<rect x="469" y="297" width="1" height="35" fill="#28c828"/>
<rect x="468" y="299" width="3" height="30" fill="#28c828"/>
<rect x="469" y="300" width="1" height="28" fill="#32cd32"/>
<rect x="473" y="314" width="1" height="15" fill="#ff0000"/>
<rect x="472" y="315" width="3" height="14" fill="#ff0000"/>
<rect x="473" y="316" width="1" height="12" fill="#ff4500"/>
<rect x="477" y="306" width="1" height="25" fill="#ff0000"/>
<rect x="476" y="313" width="3" height="3" fill="#ff0000"/>
<rect x="477" y="314" width="1" height="1" fill="#ff4500"/>
<rect x="481" y="300" width="1" height="57" fill="#28c828"/>
<rect x="480" y="313" width="3" height="12" fill="#28c828"/>
<rect x="481" y="314" width="1" height="10" fill="#32cd32"/>
<rect x="485" y="300" width="1" height="41" fill="#28c828"/>
<rect x="484" y="324" width="3" height="10" fill="#28c828"/>
<rect x="485" y="325" width="1" height="8" fill="#32cd32"/>
<rect x="489" y="327" width="1" height="19" fill="#28c828"/>
<rect x="488" y="333" width="3" height="12" fill="#28c828"/>
<rect x="489" y="334" width="1" height="10" fill="#32cd32"/>
<rect x="493" y="342" width="1" height="50" fill="#28c828"/>
<rect x="492" y="344" width="3" height="48" fill="#28c828"/>
<rect x="493" y="345" width="1" height="46" fill="#32cd32"/>
<rect x="497" y="379" width="1" height="11" fill="#ff0000"/>
<rect x="496" y="380" width="3" height="10" fill="#ff0000"/>
<rect x="497" y="381" width="1" height="8" fill="#ff4500"/>
<rect x="501" y="361" width="1" height="26" fill="#ff0000"/>
<rect x="500" y="364" width="3" height="17" fill="#ff0000"/>
<rect x="501" y="365" width="1" height="15" fill="#ff4500"/>
<rect x="505" y="324" width="1" height="46" fill="#ff0000"/>
<rect x="504" y="325" width="3" height="40" fill="#ff0000"/>
<rect x="505" y="326" width="1" height="38" fill="#ff4500"/>
<rect x="509" y="293" width="1" height="34" fill="#ff0000"/>
<rect x="508" y="301" width="3" height="25" fill="#ff0000"/>
<rect x="509" y="302" width="1" height="23" fill="#ff4500"/>
<rect x="513" y="292" width="1" height="26" fill="#28c828"/>
<rect x="512" y="301" width="3" height="13" fill="#28c828"/>
<rect x="513" y="302" width="1" height="11" fill="#32cd32"/>
<rect x="517" y="294" width="1" height="27" fill="#ff0000"/>
<rect x="516" y="301" width="3" height="13" fill="#ff0000"/>
<rect x="517" y="302" width="1" height="11" fill="#ff4500"/>
<rect x="521" y="299" width="1" height="7" fill="#ff0000"/>
<rect x="520" y="303" width="3" height="3" fill="#ff0000"/>
<rect x="521" y="304" width="1" height="1" fill="#ff4500"/>
<rect x="525" y="297" width="1" height="35" fill="#28c828"/>
<rect x="524" y="303" width="3" height="18" fill="#28c828"/>
<rect x="525" y="304" width="1" height="16" fill="#32cd32"/>
<rect x="529" y="318" width="1" height="25" fill="#28c828"/>
<rect x="528" y="321" width="3" height="15" fill="#28c828"/>
<rect x="529" y="322" width="1" height="13" fill="#32cd32"/>
<rect x="533" y="297" width="1" height="45" fill="#ff0000"/>
<rect x="532" y="302" width="3" height="34" fill="#ff0000"/>
<rect x="533" y="303" width="1" height="32" fill="#ff4500"/>
<rect x="537" y="272" width="1" height="42" fill="#ff0000"/>
<rect x="536" y="298" width="3" height="4" fill="#ff0000"/>
<rect x="537" y="299" width="1" height="2" fill="#ff4500"/>
<rect x="541" y="294" width="1" height="26" fill="#28c828"/>
<rect x="540" y="298" width="3" height="21" fill="#28c828"/>
<rect x="541" y="299" width="1" height="19" fill="#32cd32"/>
<rect x="545" y="322" width="1" height="11" fill="#28c828"/>
<rect x="544" y="322" width="3" height="8" fill="#28c828"/>
<rect x="545" y="323" width="1" height="6" fill="#32cd32"/>
<rect x="549" y="323" width="1" height="24" fill="#28c828"/>
<rect x="548" y="328" width="3" height="5" fill="#28c828"/>
<rect x="549" y="329" width="1" height="3" fill="#32cd32"/>
<rect x="553" y="308" width="1" height="31" fill="#ff0000"/>
<rect x="552" y="312" width="3" height="21" fill="#ff0000"/>
<rect x="553" y="313" width="1" height="19" fill="#ff4500"/>
<rect x="557" y="274" width="1" height="53" fill="#ff0000"/>
<rect x="556" y="278" width="3" height="36" fill="#ff0000"/>
<rect x="557" y="279" width="1" height="34" fill="#ff4500"/>
<rect x="561" y="258" width="1" height="30" fill="#ff0000"/>
<rect x="560" y="268" width="3" height="11" fill="#ff0000"/>
<rect x="561" y="269" width="1" height="9" fill="#ff4500"/>
<rect x="565" y="261" width="1" height="16" fill="#28c828"/>
<rect x="564" y="268" width="3" height="3" fill="#28c828"/>
<rect x="565" y="269" width="1" height="1" fill="#32cd32"/>
<rect x="569" y="265" width="1" height="6" fill="#000"/>
<rect x="568" y="269" width="3" height="1" fill="#000"/>
<rect x="573" y="261" width="1" height="22" fill="#ff0000"/>
<rect x="572" y="266" width="3" height="4" fill="#ff0000"/>
<rect x="573" y="267" width="1" height="2" fill="#ff4500"/>
<rect x="577" y="252" width="1" height="24" fill="#28c828"/>
<rect x="576" y="266" width="3" height="2" fill="#28c828"/>
<rect x="581" y="247" width="1" height="32" fill="#ff0000"/>
<rect x="580" y="254" width="3" height="14" fill="#ff0000"/>
<rect x="581" y="255" width="1" height="12" fill="#ff4500"/>
<rect x="585" y="245" width="1" height="18" fill="#28c828"/>
<rect x="584" y="254" width="3" height="5" fill="#28c828"/>
<rect x="585" y="255" width="1" height="3" fill="#32cd32"/>
<rect x="589" y="244" width="1" height="19" fill="#ff0000"/>
<rect x="588" y="248" width="3" height="11" fill="#ff0000"/>
<rect x="589" y="249" width="1" height="9" fill="#ff4500"/>
<rect x="593" y="245" width="1" height="6" fill="#ff0000"/>
<rect x="592" y="249" width="3" height="2" fill="#ff0000"/>
<rect x="597" y="244" width="1" height="50" fill="#28c828"/>
<rect x="596" y="249" width="3" height="39" fill="#28c828"/>
<rect x="597" y="250" width="1" height="37" fill="#32cd32"/>
<rect x="601" y="259" width="1" height="35" fill="#ff0000"/>
<rect x="600" y="265" width="3" height="23" fill="#ff0000"/>
<rect x="601" y="266" width="1" height="21" fill="#ff4500"/>
<rect x="605" y="247" width="1" height="31" fill="#28c828"/>
<rect x="604" y="264" width="3" height="11" fill="#28c828"/>
<rect x="605" y="265" width="1" height="9" fill="#32cd32"/>
<rect x="609" y="274" width="1" height="40" fill="#28c828"/>
<rect x="608" y="274" width="3" height="31" fill="#28c828"/>
<rect x="609" y="275" width="1" height="29" fill="#32cd32"/>
<rect x="613" y="291" width="1" height="31" fill="#ff0000"/>
<rect x="612" y="293" width="3" height="13" fill="#ff0000"/>
<rect x="613" y="294" width="1" height="11" fill="#ff4500"/>
<rect x="617" y="293" width="1" height="7" fill="#ff0000"/>
<rect x="616" y="296" width="3" height="1" fill="#ff0000"/>
<rect x="621" y="283" width="1" height="29" fill="#ff0000"/>
<rect x="620" y="295" width="3" height="2" fill="#ff0000"/>
<rect x="625" y="277" width="1" height="32" fill="#ff0000"/>
<rect x="624" y="280" width="3" height="16" fill="#ff0000"/>
<rect x="625" y="281" width="1" height="14" fill="#ff4500"/>
<rect x="629" y="236" width="1" height="49" fill="#ff0000"/>
<rect x="628" y="242" width="3" height="39" fill="#ff0000"/>
<rect x="629" y="243" width="1" height="37" fill="#ff4500"/>
<rect x="633" y="225" width="1" height="22" fill="#ff0000"/>
<rect x="632" y="242" width="3" height="3" fill="#ff0000"/>
<rect x="633" y="243" width="1" height="1" fill="#ff4500"/>
<rect x="637" y="236" width="1" height="51" fill="#28c828"/>
<rect x="636" y="244" width="3" height="38" fill="#28c828"/>
<rect x="637" y="245" width="1" height="36" fill="#32cd32"/>
<rect x="641" y="276" width="1" height="6" fill="#ff0000"/>
<rect x="640" y="277" width="3" height="1" fill="#ff0000"/>
<rect x="645" y="269" width="1" height="19" fill="#28c828"/>
<rect x="644" y="276" width="3" height="4" fill="#28c828"/>
<rect x="645" y="277" width="1" height="2" fill="#32cd32"/>
<rect x="649" y="270" width="1" height="30" fill="#28c828"/>
<rect x="648" y="279" width="3" height="14" fill="#28c828"/>
<rect x="649" y="280" width="1" height="12" fill="#32cd32"/>
<rect x="653" y="265" width="1" height="33" fill="#ff0000"/>
<rect x="652" y="276" width="3" height="16" fill="#ff0000"/>
<rect x="653" y="277" width="1" height="14" fill="#ff4500"/>
<rect x="657" y="245" width="1" height="38" fill="#28c828"/>
<rect x="656" y="276" width="3" height="2" fill="#28c828"/>
<rect x="661" y="275" width="1" height="24" fill="#28c828"/>
<rect x="660" y="276" width="3" height="22" fill="#28c828"/>
<rect x="661" y="277" width="1" height="20" fill="#32cd32"/>
<rect x="665" y="291" width="1" height="9" fill="#ff0000"/>
<rect x="664" y="291" width="3" height="8" fill="#ff0000"/>
<rect x="665" y="292" width="1" height="6" fill="#ff4500"/>
<rect x="669" y="291" width="1" height="52" fill="#28c828"/>
<rect x="668" y="292" width="3" height="18" fill="#28c828"/>
<rect x="669" y="293" width="1" height="16" fill="#32cd32"/>
<rect x="673" y="297" width="1" height="30" fill="#ff0000"/>
<rect x="672" y="306" width="3" height="4" fill="#ff0000"/>
<rect x="673" y="307" width="1" height="2" fill="#ff4500"/>
<rect x="677" y="295" width="1" height="45" fill="#28c828"/>
<rect x="676" y="306" width="3" height="20" fill="#28c828"/>
<rect x="677" y="307" width="1" height="18" fill="#32cd32"/>
<rect x="681" y="326" width="1" height="52" fill="#28c828"/>
<rect x="680" y="326" width="3" height="46" fill="#28c828"/>
<rect x="681" y="327" width="1" height="44" fill="#32cd32"/>
<rect x="685" y="365" width="1" height="40" fill="#28c828"/>
<rect x="684" y="371" width="3" height="29" fill="#28c828"/>
<rect x="685" y="372" width="1" height="27" fill="#32cd32"/>
<rect x="689" y="391" width="1" height="6" fill="#ff0000"/>
<rect x="688" y="391" width="3" height="2" fill="#ff0000"/>
<rect x="693" y="349" width="1" height="45" fill="#ff0000"/>
<rect x="692" y="354" width="3" height="38" fill="#ff0000"/>
<rect x="693" y="355" width="1" height="36" fill="#ff4500"/>
<rect x="697" y="317" width="1" height="56" fill="#ff0000"/>
<rect x="696" y="320" width="3" height="34" fill="#ff0000"/>
<rect x="697" y="321" width="1" height="32" fill="#ff4500"/>
<rect x="701" y="307" width="1" height="22" fill="#28c828"/>
<rect x="700" y="320" width="3" height="7" fill="#28c828"/>
<rect x="701" y="321" width="1" height="5" fill="#32cd32"/>
<rect x="705" y="301" width="1" height="31" fill="#ff0000"/>
<rect x="704" y="315" width="3" height="12" fill="#ff0000"/>
<rect x="705" y="316" width="1" height="10" fill="#ff4500"/>
<rect x="709" y="310" width="1" height="53" fill="#28c828"/>
<rect x="708" y="315" width="3" height="36" fill="#28c828"/>
<rect x="709" y="316" width="1" height="34" fill="#32cd32"/>
<rect x="713" y="345" width="1" height="6" fill="#28c828"/>
<rect x="712" y="347" width="3" height="2" fill="#28c828"/>
<rect x="717" y="321" width="1" height="35" fill="#ff0000"/>
<rect x="716" y="323" width="3" height="25" fill="#ff0000"/>
<rect x="717" y="324" width="1" height="23" fill="#ff4500"/>
<rect x="721" y="312" width="1" height="24" fill="#ff0000"/>
<rect x="720" y="314" width="3" height="9" fill="#ff0000"/>
<rect x="721" y="315" width="1" height="7" fill="#ff4500"/>
<rect x="725" y="288" width="1" height="28" fill="#ff0000"/>
<rect x="724" y="297" width="3" height="18" fill="#ff0000"/>
<rect x="725" y="298" width="1" height="16" fill="#ff4500"/>
<rect x="729" y="258" width="1" height="55" fill="#28c828"/>
<rect x="728" y="297" width="3" height="9" fill="#28c828"/>
<rect x="729" y="298" width="1" height="7" fill="#32cd32"/>
<rect x="733" y="293" width="1" height="40" fill="#28c828"/>
<rect x="732" y="305" width="3" height="20" fill="#28c828"/>
<rect x="733" y="306" width="1" height="18" fill="#32cd32"/>
<rect x="737" y="311" width="1" height="12" fill="#ff0000"/>
<rect x="736" y="314" width="3" height="8" fill="#ff0000"/>
<rect x="737" y="315" width="1" height="6" fill="#ff4500"/>
<rect x="741" y="312" width="1" height="33" fill="#28c828"/>
<rect x="740" y="314" width="3" height="7" fill="#28c828"/>
<rect x="741" y="315" width="1" height="5" fill="#32cd32"/>
<rect x="745" y="307" width="1" height="30" fill="#ff0000"/>
<rect x="744" y="312" width="3" height="9" fill="#ff0000"/>
<rect x="745" y="313" width="1" height="7" fill="#ff4500"/>
<rect x="749" y="281" width="1" height="33" fill="#ff0000"/>
<rect x="748" y="289" width="3" height="22" fill="#ff0000"/>
<rect x="749" y="290" width="1" height="20" fill="#ff4500"/>
<rect x="753" y="276" width="1" height="36" fill="#28c828"/>
<rect x="752" y="289" width="3" height="3" fill="#28c828"/>
<rect x="753" y="290" width="1" height="1" fill="#32cd32"/>
<rect x="757" y="270" width="1" height="34" fill="#28c828"/>
<rect x="756" y="292" width="3" height="1" fill="#28c828"/>
<rect x="761" y="298" width="1" height="5" fill="#28c828"/>
<rect x="760" y="299" width="3" height="2" fill="#28c828"/>
<rect x="765" y="273" width="1" height="30" fill="#ff0000"/>
<rect x="764" y="293" width="3" height="8" fill="#ff0000"/>
<rect x="765" y="294" width="1" height="6" fill="#ff4500"/>
<rect x="769" y="267" width="1" height="29" fill="#ff0000"/>
<rect x="768" y="271" width="3" height="22" fill="#ff0000"/>
<rect x="769" y="272" width="1" height="20" fill="#ff4500"/>
<rect x="773" y="241" width="1" height="35" fill="#ff0000"/>
<rect x="772" y="270" width="3" height="2" fill="#ff0000"/>
<rect x="777" y="269" width="1" height="72" fill="#28c828"/>
<rect x="776" y="270" width="3" height="36" fill="#28c828"/>
<rect x="777" y="271" width="1" height="34" fill="#32cd32"/>
<rect x="781" y="265" width="1" height="51" fill="#ff0000"/>
<rect x="780" y="268" width="3" height="38" fill="#ff0000"/>
<rect x="781" y="269" width="1" height="36" fill="#ff4500"/>
<rect x="785" y="291" width="1" height="11" fill="#ff0000"/>
<rect x="784" y="292" width="3" height="4" fill="#ff0000"/>
<rect x="785" y="293" width="1" height="2" fill="#ff4500"/>
<rect x="789" y="249" width="1" height="53" fill="#ff0000"/>
<rect x="788" y="254" width="3" height="39" fill="#ff0000"/>
<rect x="789" y="255" width="1" height="37" fill="#ff4500"/>
<rect x="793" y="238" width="1" height="28" fill="#ff0000"/>
<rect x="792" y="253" width="3" height="2" fill="#ff0000"/>
<rect x="797" y="229" width="1" height="34" fill="#ff0000"/>
<rect x="796" y="236" width="3" height="17" fill="#ff0000"/>
<rect x="797" y="237" width="1" height="15" fill="#ff4500"/>
<rect x="801" y="208" width="1" height="38" fill="#ff0000"/>
<rect x="800" y="214" width="3" height="23" fill="#ff0000"/>
<rect x="801" y="215" width="1" height="21" fill="#ff4500"/>
<rect x="805" y="190" width="1" height="43" fill="#ff0000"/>
<rect x="804" y="195" width="3" height="19" fill="#ff0000"/>
<rect x="805" y="196" width="1" height="17" fill="#ff4500"/>
<rect x="809" y="182" width="1" height="23" fill="#ff0000"/>
<rect x="808" y="183" width="3" height="13" fill="#ff0000"/>
<rect x="809" y="184" width="1" height="11" fill="#ff4500"/>
<rect x="813" y="159" width="1" height="69" fill="#28c828"/>
<rect x="812" y="184" width="3" height="34" fill="#28c828"/>
<rect x="813" y="185" width="1" height="32" fill="#32cd32"/>
<rect x="817" y="207" width="1" height="55" fill="#28c828"/>
<rect x="816" y="217" width="3" height="34" fill="#28c828"/>
<rect x="817" y="218" width="1" height="32" fill="#32cd32"/>
<rect x="821" y="213" width="1" height="38" fill="#ff0000"/>
<rect x="820" y="224" width="3" height="26" fill="#ff0000"/>
<rect x="821" y="225" width="1" height="24" fill="#ff4500"/>
<rect x="825" y="197" width="1" height="42" fill="#ff0000"/>
<rect x="824" y="198" width="3" height="27" fill="#ff0000"/>
<rect x="825" y="199" width="1" height="25" fill="#ff4500"/>
<rect x="829" y="197" width="1" height="39" fill="#28c828"/>
<rect x="828" y="198" width="3" height="38" fill="#28c828"/>
<rect x="829" y="199" width="1" height="36" fill="#32cd32"/>
<rect x="833" y="232" width="1" height="7" fill="#ff0000"/>
<rect x="832" y="233" width="3" height="6" fill="#ff0000"/>
<rect x="833" y="234" width="1" height="4" fill="#ff4500"/>
<rect x="837" y="234" width="1" height="59" fill="#28c828"/>
<rect x="836" y="234" width="3" height="52" fill="#28c828"/>
<rect x="837" y="235" width="1" height="50" fill="#32cd32"/>
<rect x="841" y="270" width="1" height="34" fill="#28c828"/>
<rect x="840" y="286" width="3" height="5" fill="#28c828"/>
<rect x="841" y="287" width="1" height="3" fill="#32cd32"/>
<rect x="845" y="234" width="1" height="62" fill="#ff0000"/>
<rect x="844" y="239" width="3" height="52" fill="#ff0000"/>
<rect x="845" y="240" width="1" height="50" fill="#ff4500"/>
<rect x="849" y="184" width="1" height="58" fill="#ff0000"/>
<rect x="848" y="190" width="3" height="49" fill="#ff0000"/>
<rect x="849" y="191" width="1" height="47" fill="#ff4500"/>
<rect x="853" y="171" width="1" height="31" fill="#ff0000"/>
<rect x="852" y="176" width="3" height="15" fill="#ff0000"/>
<rect x="853" y="177" width="1" height="13" fill="#ff4500"/>
<rect x="857" y="173" width="1" height="6" fill="#ff0000"/>
<rect x="856" y="175" width="3" height="3" fill="#ff0000"/>
<rect x="857" y="176" width="1" height="1" fill="#ff4500"/>
<rect x="861" y="167" width="1" height="28" fill="#28c828"/>
<rect x="860" y="175" width="3" height="9" fill="#28c828"/>
<rect x="861" y="176" width="1" height="7" fill="#32cd32"/>
<rect x="865" y="140" width="1" height="54" fill="#ff0000"/>
<rect x="864" y="148" width="3" height="36" fill="#ff0000"/>
<rect x="865" y="149" width="1" height="34" fill="#ff4500"/>
<rect x="869" y="124" width="1" height="31" fill="#ff0000"/>
<rect x="868" y="129" width="3" height="20" fill="#ff0000"/>
<rect x="869" y="130" width="1" height="18" fill="#ff4500"/>
<rect x="873" y="114" width="1" height="33" fill="#ff0000"/>
<rect x="872" y="123" width="3" height="6" fill="#ff0000"/>
<rect x="873" y="124" width="1" height="4" fill="#ff4500"/>
<rect x="877" y="109" width="1" height="23" fill="#ff0000"/>
<rect x="876" y="117" width="3" height="7" fill="#ff0000"/>
<rect x="877" y="118" width="1" height="5" fill="#ff4500"/>
<rect x="881" y="117" width="1" height="5" fill="#ff0000"/>
<rect x="880" y="118" width="3" height="3" fill="#ff0000"/>
<rect x="881" y="119" width="1" height="1" fill="#ff4500"/>
<rect x="885" y="107" width="1" height="39" fill="#28c828"/>
<rect x="884" y="119" width="3" height="12" fill="#28c828"/>
<rect x="885" y="120" width="1" height="10" fill="#32cd32"/>
<rect x="889" y="115" width="1" height="37" fill="#ff0000"/>
<rect x="888" y="120" width="3" height="10" fill="#ff0000"/>
<rect x="889" y="121" width="1" height="8" fill="#ff4500"/>
<rect x="893" y="109" width="1" height="23" fill="#28c828"/>
<rect x="892" y="121" width="3" height="7" fill="#28c828"/>
<rect x="893" y="122" width="1" height="5" fill="#32cd32"/>
<rect x="897" y="115" width="1" height="29" fill="#28c828"/>
<rect x="896" y="127" width="3" height="6" fill="#28c828"/>
<rect x="897" y="128" width="1" height="4" fill="#32cd32"/>
<rect x="901" y="115" width="1" height="29" fill="#ff0000"/>
<rect x="900" y="130" width="3" height="3" fill="#ff0000"/>
<rect x="901" y="131" width="1" height="1" fill="#ff4500"/>
<rect x="905" y="131" width="1" height="6" fill="#28c828"/>
<rect x="904" y="134" width="3" height="2" fill="#28c828"/>
<rect x="909" y="98" width="1" height="40" fill="#ff0000"/>
<rect x="908" y="105" width="3" height="31" fill="#ff0000"/>
<rect x="909" y="106" width="1" height="29" fill="#ff4500"/>
<rect x="913" y="44" width="1" height="66" fill="#ff0000"/>
<rect x="912" y="83" width="3" height="24" fill="#ff0000"/>
<rect x="913" y="84" width="1" height="22" fill="#ff4500"/>
<rect x="917" y="79" width="1" height="57" fill="#28c828"/>
<rect x="916" y="82" width="3" height="44" fill="#28c828"/>
<rect x="917" y="83" width="1" height="42" fill="#32cd32"/>
<rect x="921" y="121" width="1" height="25" fill="#28c828"/>
<rect x="920" y="125" width="3" height="15" fill="#28c828"/>
<rect x="921" y="126" width="1" height="13" fill="#32cd32"/>
<rect x="925" y="135" width="1" height="8" fill="#28c828"/>
<rect x="924" y="139" width="3" height="1" fill="#28c828"/>
<rect x="4" y="24" width="1164" height="1" fill="#000"/>
<rect x="4" y="416" width="1164" height="1" fill="#000"/>
<rect x="4" y="24" width="1" height="393" fill="#000"/>
<rect x="1167" y="24" width="1" height="393" fill="#000"/>
<rect x="4" y="418" width="1164" height="1" fill="#000"/>
<rect x="4" y="489" width="1164" height="1" fill="#000"/>
<rect x="4" y="418" width="1" height="72" fill="#000"/>
<rect x="1167" y="418" width="1" height="72" fill="#000"/>
<rect x="4" y="492" width="1164" height="1" fill="#000"/>
<rect x="4" y="566" width="1164" height="1" fill="#000"/>
<rect x="4" y="492" width="1" height="75" fill="#000"/>
<rect x="1167" y="492" width="1" height="75" fill="#000"/>
<rect x="5" y="566" width="1" height="4" fill="#000"/>
<rect x="69" y="566" width="1" height="4" fill="#000"/>
<rect x="133" y="566" width="1" height="4" fill="#000"/>
<rect x="197" y="566" width="1" height="4" fill="#000"/>
<rect x="261" y="566" width="1" height="4" fill="#000"/>
<rect x="325" y="566" width="1" height="4" fill="#000"/>
<rect x="389" y="566" width="1" height="4" fill="#000"/>
<rect x="453" y="566" width="1" height="4" fill="#000"/>
<rect x="517" y="566" width="1" height="4" fill="#000"/>
<rect x="581" y="566" width="1" height="4" fill="#000"/>
<rect x="645" y="566" width="1" height="4" fill="#000"/>
<rect x="709" y="566" width="1" height="4" fill="#000"/>
<rect x="773" y="566" width="1" height="4" fill="#000"/>
<rect x="837" y="566" width="1" height="4" fill="#000"/>
<rect x="901" y="566" width="1" height="4" fill="#000"/>
<rect x="1168" y="50" width="2" height="1" fill="#000"/>
<rect x="1168" y="83" width="2" height="1" fill="#000"/>
<rect x="1168" y="116" width="2" height="1" fill="#000"/>
<rect x="1168" y="149" width="2" height="1" fill="#000"/>
<rect x="1168" y="182" width="2" height="1" fill="#000"/>
<rect x="1168" y="215" width="2" height="1" fill="#000"/>
<rect x="1168" y="248" width="2" height="1" fill="#000"/>
<rect x="1168" y="281" width="2" height="1" fill="#000"/>
<rect x="1168" y="314" width="2" height="1" fill="#000"/>
<rect x="1168" y="347" width="2" height="1" fill="#000"/>
<rect x="1168" y="380" width="2" height="1" fill="#000"/>
<rect x="1168" y="413" width="2" height="1" fill="#000"/>
<rect x="1168" y="452" width="2" height="1" fill="#000"/>
<rect x="1168" y="420" width="1" height="1" fill="#000"/>
<rect x="1168" y="489" width="1" height="1" fill="#000"/>
<rect x="1168" y="494" width="1" height="1" fill="#000"/>
<rect x="1168" y="566" width="1" height="1" fill="#000"/>
</g>
</svg>
<svg class="abs" style="left:8px;top:31px" width="8" height="5" viewBox="0 0 8 5"><path d="M0 4.5 L3.5 0 L7 4.5 Z" fill="#000"/></svg>
<div class="t" style="left:21px;top:28px;transform:scaleX(0.959)">AUDUSD-,Daily</div>
<div class="t" style="left:95px;top:28px;transform:scaleX(0.916)">0.74777 0.74859 0.74725 0.74775</div>
<div class="t" style="left:9px;top:423px;transform:scaleX(0.931)">MACD(12,26,9) 0.005032 0.006290</div>
<div class="t" style="left:9px;top:497px;transform:scaleX(0.925)">RSI(14) 54.8292</div>
<div class="abs" style="left:8px;top:44px;width:52px;height:25px;background:linear-gradient(#f85252,#e03838)"></div>
<div class="abs" style="left:175px;top:44px;width:52px;height:25px;background:linear-gradient(#f85252,#e03838)"></div>
<div class="abs" style="left:8px;top:68px;width:109px;height:33px;background:linear-gradient(#da2e2e,#b60a0a)"></div>
<div class="abs" style="left:119px;top:68px;width:108px;height:33px;background:linear-gradient(#da2e2e,#b60a0a)"></div>
<div class="abs" style="left:12px;top:67.5px;width:44px;height:1px;background:#a41616"></div>
<div class="abs" style="left:179px;top:67.5px;width:44px;height:1px;background:#a41616"></div>
<div class="abs" style="left:62px;top:44px;width:111px;height:22px;background:#fff;border:1px solid #b0b8c8;box-sizing:border-box"></div>
<div class="abs" style="left:63px;top:45px;width:20px;height:20px;background:linear-gradient(#e6e6e6 0,#e2e2e2 50%,#d0d0d0 50%,#cacaca 100%);border-right:1px solid #b0b8c8"></div>
<div class="abs" style="left:152px;top:45px;width:20px;height:20px;background:linear-gradient(#e6e6e6 0,#e2e2e2 50%,#d0d0d0 50%,#cacaca 100%);border-left:1px solid #b0b8c8"></div>
<svg class="abs" style="left:69px;top:53px" width="6" height="3" viewBox="0 0 6 3"><path d="M0 0 L6 0 L3 3 Z" fill="#5060c0"/></svg>
<svg class="abs" style="left:159px;top:53px" width="6" height="3" viewBox="0 0 6 3"><path d="M0 3 L6 3 L3 0 Z" fill="#5060c0"/></svg>
<div class="abs" style="left:20.2px;top:50px;font-size:11.4px;line-height:13px;color:#fff0ec;transform:scaleX(.95);transform-origin:0 0">SELL</div>
<div class="abs" style="left:188.4px;top:50px;font-size:11.4px;line-height:13px;color:#fff0ec;transform:scaleX(.99);transform-origin:0 0">BUY</div>
<div class="abs" style="left:124px;top:49px;font-size:11.2px;line-height:13px;color:#000;transform:scaleX(1.1);transform-origin:0 0">0.50</div>
<div class="abs" style="left:27.5px;top:86px;font-size:11.4px;line-height:13px;font-weight:bold;color:#fff;transform:scaleX(1.13);transform-origin:0 0">0.74</div>
<div class="abs" style="left:137.5px;top:86px;font-size:11.4px;line-height:13px;font-weight:bold;color:#fff;transform:scaleX(1.13);transform-origin:0 0">0.74</div>
<div class="abs" id="big1" style="left:53.5px;top:66px;font-size:34.5px;line-height:38px;color:#fff;transform:scaleX(.95);transform-origin:0 0">77</div>
<div class="abs" id="big2" style="left:166.3px;top:66px;font-size:34.5px;line-height:38px;color:#fff;transform:scaleX(.95);transform-origin:0 0">79</div>
<div class="abs" style="left:95.2px;top:70px;font-size:12px;line-height:13px;font-weight:bold;color:#fff">5</div>
<div class="abs" style="left:206.6px;top:70px;font-size:12px;line-height:13px;font-weight:bold;color:#fff">5</div>

<div class="ax" style="top:46px">0.76480</div>
<div class="ax" style="top:79px">0.75850</div>
<div class="ax" style="top:112px">0.75220</div>
<div class="ax" style="top:145px">0.74590</div>
<div class="ax" style="top:178px">0.73960</div>
<div class="ax" style="top:211px">0.73330</div>
<div class="ax" style="top:244px">0.72685</div>
<div class="ax" style="top:277px">0.72055</div>
<div class="ax" style="top:310px">0.71425</div>
<div class="ax" style="top:343px">0.70795</div>
<div class="ax" style="top:376px">0.70165</div>
<div class="ax" style="top:409px">0.69535</div>
<div class="ax" style="top:422px;left:1171.0px">0.008061</div>
<div class="ax" style="top:448px;left:1171.0px">0.00</div>
<div class="ax" style="top:480px;left:1172.0px">-0.00928</div>
<div class="ax" style="top:495px;left:1171.0px">100</div>
<div class="ax" style="top:511px;left:1170.0px">70</div>
<div class="ax" style="top:540px;left:1170.0px">30</div>
<div class="ax" style="top:555px;left:1171.0px">0</div>
<div class="lb" style="top:95px;background:#ff0000"><span>0.75512</span></div>
<div class="lb" style="top:134px;background:#000"><span>0.74775</span></div>
<div class="lb" style="top:174px;background:#7cfc00"><span>0.74002</span></div>
<div class="lb" style="top:252px;background:#0000ff"><span>0.72504</span></div>
<div class="lb" style="top:330px;background:#0000c8"><span>0.71013</span></div>
<div class="lb" style="top:405px;background:#0000ff"><span>0.69582</span></div>
<div class="t" style="left:4.3px;top:571px;transform:scaleX(0.925)">14 Jul 2021</div>
<div class="t" style="left:68.3px;top:571px;transform:scaleX(0.925)">2 Aug 2021</div>
<div class="t" style="left:132.3px;top:571px;transform:scaleX(0.925)">20 Aug 2021</div>
<div class="t" style="left:196.3px;top:571px;transform:scaleX(0.925)">8 Sep 2021</div>
<div class="t" style="left:260.3px;top:571px;transform:scaleX(0.925)">27 Sep 2021</div>
<div class="t" style="left:324.3px;top:571px;transform:scaleX(0.925)">15 Oct 2021</div>
<div class="t" style="left:388.3px;top:571px;transform:scaleX(0.925)">3 Nov 2021</div>
<div class="t" style="left:452.3px;top:571px;transform:scaleX(0.925)">22 Nov 2021</div>
<div class="t" style="left:516.3px;top:571px;transform:scaleX(0.925)">10 Dec 2021</div>
<div class="t" style="left:580.3px;top:571px;transform:scaleX(0.925)">29 Dec 2021</div>
<div class="t" style="left:644.3px;top:571px;transform:scaleX(0.925)">17 Jan 2022</div>
<div class="t" style="left:708.3px;top:571px;transform:scaleX(0.925)">4 Feb 2022</div>
<div class="t" style="left:772.3px;top:571px;transform:scaleX(0.925)">23 Feb 2022</div>
<div class="t" style="left:836.3px;top:571px;transform:scaleX(0.925)">14 Mar 2022</div>
<div class="t" style="left:900.3px;top:571px;transform:scaleX(0.925)">1 Apr 2022</div>
<div class="abs" style="left:0;top:588px;width:1206px;height:1px;background:#f0f0f0"></div>
<div class="abs" style="left:0;top:589px;width:1206px;height:1px;background:#000"></div>
<div class="abs" style="left:0;top:590px;width:1206px;height:19px;background:#f0f0f0"></div>
<div class="abs" style="left:0;top:609px;width:1206px;height:2px;background:#fafafa"></div>
<div class="abs" style="left:0;top:611px;width:1206px;height:3px;background:#d4d4d4"></div>
<div class="abs" style="left:1px;top:590px;width:1px;height:18px;background:#696969"></div>
<div class="abs" style="left:214px;top:589px;width:109px;height:20px;background:#fff;border-left:1px solid #000;border-right:2px solid #000;border-bottom:2px solid #000;box-sizing:border-box"></div>
<div class="tab" style="left:17px;color:#6e6e6e">USDX,Weekly</div>
<div class="tab" style="left:117px;color:#6e6e6e">EURUSD-,Daily</div>
<div class="tab" style="left:224px;color:#000">AUDUSD-,Daily</div>
<div class="tab" style="left:334px;color:#6e6e6e">USDCHF-,Daily</div>
<div class="tab" style="left:441px;color:#6e6e6e">USDCAD-,Daily</div>
<div class="tab" style="left:549.5px;color:#6e6e6e">USDCNH-,Daily</div>
<div class="tab" style="left:661.5px;color:#6e6e6e">XAUUSD-,Daily</div>
<div class="tab" style="left:769.5px;color:#6e6e6e">UKOil-,Daily</div>
<div class="tab" style="left:862px;color:#6e6e6e">DJ30-,Daily</div>
<div class="tab" style="left:949px;color:#6e6e6e">UK100-,H1</div>
<div class="tab" style="left:1034.5px;color:#6e6e6e">USOil-,H1</div>
<div class="tab" style="left:1112px;color:#6e6e6e">HK50-,H1</div>
<div class="sep" style="left:106px"></div>
<div class="sep" style="left:430px"></div>
<div class="sep" style="left:539px"></div>
<div class="sep" style="left:650px"></div>
<div class="sep" style="left:758px"></div>
<div class="sep" style="left:850px"></div>
<div class="sep" style="left:938px"></div>
<div class="sep" style="left:1022px"></div>
<div class="sep" style="left:1102px"></div>
<svg class="abs" style="left:1182px;top:594px" width="4" height="8" viewBox="0 0 4 8"><path d="M4 0 L4 8 L0 4 Z" fill="#a0a0a0"/></svg>
<svg class="abs" style="left:1201px;top:594px" width="4" height="8" viewBox="0 0 4 8"><path d="M0 0 L0 8 L4 4 Z" fill="#000"/></svg>
</body></html>
